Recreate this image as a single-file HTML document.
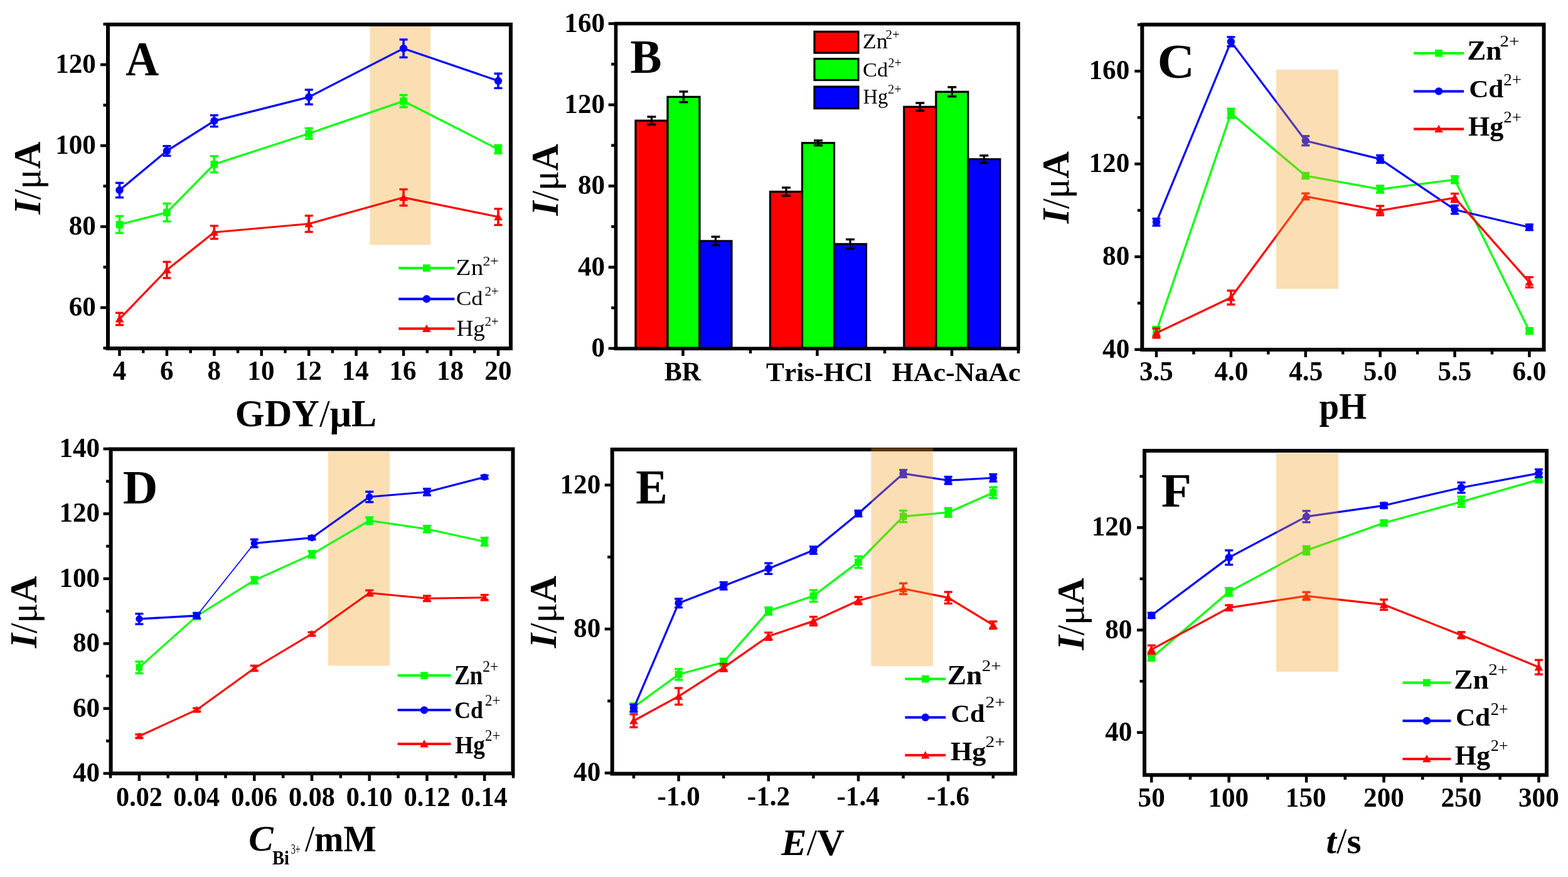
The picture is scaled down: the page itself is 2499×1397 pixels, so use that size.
<!DOCTYPE html>
<html><head><meta charset="utf-8"><title>Figure</title>
<style>
html,body{margin:0;padding:0;background:#fff;}
body{width:2499px;height:1397px;overflow:hidden;}
svg{display:block;}
text{font-family:'Liberation Serif', 'Times New Roman', serif;font-weight:bold;fill:#000;font-kerning:none;}
</style></head><body>
<svg width="2499" height="1397" viewBox="0 0 2499 1397">
<rect width="2499" height="1397" fill="#fff"/>
<rect x="589.5" y="41.8" width="96.5" height="348.2" fill="#fbdeb2"/>
<polyline points="190.5,357.77 265.94,338.43 341.38,261.67 492.25,212.65 643.12,161.05 794,237.81" fill="none" stroke="#00ff00" stroke-width="3.2" stroke-linejoin="round"/>
<line x1="190.5" y1="344.23" x2="190.5" y2="371.32" stroke="#00ff00" stroke-width="3.6" stroke-linecap="butt"/>
<line x1="184" y1="344.23" x2="197" y2="344.23" stroke="#00ff00" stroke-width="3.4" stroke-linecap="butt"/>
<line x1="184" y1="371.32" x2="197" y2="371.32" stroke="#00ff00" stroke-width="3.4" stroke-linecap="butt"/>
<rect x="184.7" y="351.97" width="11.6" height="11.6" fill="#00ff00"/>
<line x1="265.94" y1="324.24" x2="265.94" y2="352.62" stroke="#00ff00" stroke-width="3.6" stroke-linecap="butt"/>
<line x1="259.44" y1="324.24" x2="272.44" y2="324.24" stroke="#00ff00" stroke-width="3.4" stroke-linecap="butt"/>
<line x1="259.44" y1="352.62" x2="272.44" y2="352.62" stroke="#00ff00" stroke-width="3.4" stroke-linecap="butt"/>
<rect x="260.14" y="332.62" width="11.6" height="11.6" fill="#00ff00"/>
<line x1="341.38" y1="248.77" x2="341.38" y2="274.57" stroke="#00ff00" stroke-width="3.6" stroke-linecap="butt"/>
<line x1="334.88" y1="248.77" x2="347.88" y2="248.77" stroke="#00ff00" stroke-width="3.4" stroke-linecap="butt"/>
<line x1="334.88" y1="274.57" x2="347.88" y2="274.57" stroke="#00ff00" stroke-width="3.4" stroke-linecap="butt"/>
<rect x="335.57" y="255.87" width="11.6" height="11.6" fill="#00ff00"/>
<line x1="492.25" y1="204.27" x2="492.25" y2="221.03" stroke="#00ff00" stroke-width="3.6" stroke-linecap="butt"/>
<line x1="485.75" y1="204.27" x2="498.75" y2="204.27" stroke="#00ff00" stroke-width="3.4" stroke-linecap="butt"/>
<line x1="485.75" y1="221.03" x2="498.75" y2="221.03" stroke="#00ff00" stroke-width="3.4" stroke-linecap="butt"/>
<rect x="486.45" y="206.85" width="11.6" height="11.6" fill="#00ff00"/>
<line x1="643.12" y1="151.38" x2="643.12" y2="170.73" stroke="#00ff00" stroke-width="3.6" stroke-linecap="butt"/>
<line x1="636.62" y1="151.38" x2="649.62" y2="151.38" stroke="#00ff00" stroke-width="3.4" stroke-linecap="butt"/>
<line x1="636.62" y1="170.73" x2="649.62" y2="170.73" stroke="#00ff00" stroke-width="3.4" stroke-linecap="butt"/>
<rect x="637.33" y="155.25" width="11.6" height="11.6" fill="#00ff00"/>
<line x1="794" y1="231.36" x2="794" y2="244.25" stroke="#00ff00" stroke-width="3.6" stroke-linecap="butt"/>
<line x1="787.5" y1="231.36" x2="800.5" y2="231.36" stroke="#00ff00" stroke-width="3.4" stroke-linecap="butt"/>
<line x1="787.5" y1="244.25" x2="800.5" y2="244.25" stroke="#00ff00" stroke-width="3.4" stroke-linecap="butt"/>
<rect x="788.2" y="232.01" width="11.6" height="11.6" fill="#00ff00"/>
<polyline points="190.5,302.95 265.94,240.38 341.38,192.66 492.25,154.6 643.12,77.2 794,128.8" fill="none" stroke="#0000ff" stroke-width="3.2" stroke-linejoin="round"/>
<line x1="190.5" y1="291.34" x2="190.5" y2="314.56" stroke="#0000ff" stroke-width="3.6" stroke-linecap="butt"/>
<line x1="184" y1="291.34" x2="197" y2="291.34" stroke="#0000ff" stroke-width="3.4" stroke-linecap="butt"/>
<line x1="184" y1="314.56" x2="197" y2="314.56" stroke="#0000ff" stroke-width="3.4" stroke-linecap="butt"/>
<circle cx="190.5" cy="302.95" r="6.2" fill="#0000ff"/>
<line x1="265.94" y1="232.64" x2="265.94" y2="248.12" stroke="#0000ff" stroke-width="3.6" stroke-linecap="butt"/>
<line x1="259.44" y1="232.64" x2="272.44" y2="232.64" stroke="#0000ff" stroke-width="3.4" stroke-linecap="butt"/>
<line x1="259.44" y1="248.12" x2="272.44" y2="248.12" stroke="#0000ff" stroke-width="3.4" stroke-linecap="butt"/>
<circle cx="265.94" cy="240.38" r="6.2" fill="#0000ff"/>
<line x1="341.38" y1="183.62" x2="341.38" y2="201.69" stroke="#0000ff" stroke-width="3.6" stroke-linecap="butt"/>
<line x1="334.88" y1="183.62" x2="347.88" y2="183.62" stroke="#0000ff" stroke-width="3.4" stroke-linecap="butt"/>
<line x1="334.88" y1="201.69" x2="347.88" y2="201.69" stroke="#0000ff" stroke-width="3.4" stroke-linecap="butt"/>
<circle cx="341.38" cy="192.66" r="6.2" fill="#0000ff"/>
<line x1="492.25" y1="142.99" x2="492.25" y2="166.21" stroke="#0000ff" stroke-width="3.6" stroke-linecap="butt"/>
<line x1="485.75" y1="142.99" x2="498.75" y2="142.99" stroke="#0000ff" stroke-width="3.4" stroke-linecap="butt"/>
<line x1="485.75" y1="166.21" x2="498.75" y2="166.21" stroke="#0000ff" stroke-width="3.4" stroke-linecap="butt"/>
<circle cx="492.25" cy="154.6" r="6.2" fill="#0000ff"/>
<line x1="643.12" y1="63.01" x2="643.12" y2="91.39" stroke="#0000ff" stroke-width="3.6" stroke-linecap="butt"/>
<line x1="636.62" y1="63.01" x2="649.62" y2="63.01" stroke="#0000ff" stroke-width="3.4" stroke-linecap="butt"/>
<line x1="636.62" y1="91.39" x2="649.62" y2="91.39" stroke="#0000ff" stroke-width="3.4" stroke-linecap="butt"/>
<circle cx="643.12" cy="77.2" r="6.2" fill="#0000ff"/>
<line x1="794" y1="117.19" x2="794" y2="140.41" stroke="#0000ff" stroke-width="3.6" stroke-linecap="butt"/>
<line x1="787.5" y1="117.19" x2="800.5" y2="117.19" stroke="#0000ff" stroke-width="3.4" stroke-linecap="butt"/>
<line x1="787.5" y1="140.41" x2="800.5" y2="140.41" stroke="#0000ff" stroke-width="3.4" stroke-linecap="butt"/>
<circle cx="794" cy="128.8" r="6.2" fill="#0000ff"/>
<polyline points="190.5,508.06 265.94,430.01 341.38,370.03 492.25,356.49 643.12,314.56 794,345.52" fill="none" stroke="#ff0000" stroke-width="3.2" stroke-linejoin="round"/>
<line x1="190.5" y1="498.38" x2="190.5" y2="517.74" stroke="#ff0000" stroke-width="3.6" stroke-linecap="butt"/>
<line x1="184" y1="498.38" x2="197" y2="498.38" stroke="#ff0000" stroke-width="3.4" stroke-linecap="butt"/>
<line x1="184" y1="517.74" x2="197" y2="517.74" stroke="#ff0000" stroke-width="3.4" stroke-linecap="butt"/>
<polygon points="190.5,501.26 183.7,513.5 197.3,513.5" fill="#ff0000"/>
<line x1="265.94" y1="417.12" x2="265.94" y2="442.91" stroke="#ff0000" stroke-width="3.6" stroke-linecap="butt"/>
<line x1="259.44" y1="417.12" x2="272.44" y2="417.12" stroke="#ff0000" stroke-width="3.4" stroke-linecap="butt"/>
<line x1="259.44" y1="442.91" x2="272.44" y2="442.91" stroke="#ff0000" stroke-width="3.4" stroke-linecap="butt"/>
<polygon points="265.94,423.21 259.14,435.45 272.74,435.45" fill="#ff0000"/>
<line x1="341.38" y1="359.71" x2="341.38" y2="380.35" stroke="#ff0000" stroke-width="3.6" stroke-linecap="butt"/>
<line x1="334.88" y1="359.71" x2="347.88" y2="359.71" stroke="#ff0000" stroke-width="3.4" stroke-linecap="butt"/>
<line x1="334.88" y1="380.35" x2="347.88" y2="380.35" stroke="#ff0000" stroke-width="3.4" stroke-linecap="butt"/>
<polygon points="341.38,363.23 334.57,375.47 348.18,375.47" fill="#ff0000"/>
<line x1="492.25" y1="343.58" x2="492.25" y2="369.39" stroke="#ff0000" stroke-width="3.6" stroke-linecap="butt"/>
<line x1="485.75" y1="343.58" x2="498.75" y2="343.58" stroke="#ff0000" stroke-width="3.4" stroke-linecap="butt"/>
<line x1="485.75" y1="369.39" x2="498.75" y2="369.39" stroke="#ff0000" stroke-width="3.4" stroke-linecap="butt"/>
<polygon points="492.25,349.69 485.45,361.93 499.05,361.93" fill="#ff0000"/>
<line x1="643.12" y1="301.66" x2="643.12" y2="327.46" stroke="#ff0000" stroke-width="3.6" stroke-linecap="butt"/>
<line x1="636.62" y1="301.66" x2="649.62" y2="301.66" stroke="#ff0000" stroke-width="3.4" stroke-linecap="butt"/>
<line x1="636.62" y1="327.46" x2="649.62" y2="327.46" stroke="#ff0000" stroke-width="3.4" stroke-linecap="butt"/>
<polygon points="643.12,307.76 636.33,320 649.92,320" fill="#ff0000"/>
<line x1="794" y1="332.62" x2="794" y2="358.42" stroke="#ff0000" stroke-width="3.6" stroke-linecap="butt"/>
<line x1="787.5" y1="332.62" x2="800.5" y2="332.62" stroke="#ff0000" stroke-width="3.4" stroke-linecap="butt"/>
<line x1="787.5" y1="358.42" x2="800.5" y2="358.42" stroke="#ff0000" stroke-width="3.4" stroke-linecap="butt"/>
<polygon points="794,338.72 787.2,350.96 800.8,350.96" fill="#ff0000"/>
<rect x="172" y="39" width="642" height="516" fill="none" stroke="#000" stroke-width="6"/>
<line x1="160" y1="490" x2="172" y2="490" stroke="#000" stroke-width="4.5" stroke-linecap="butt"/>
<line x1="160" y1="361" x2="172" y2="361" stroke="#000" stroke-width="4.5" stroke-linecap="butt"/>
<line x1="160" y1="232" x2="172" y2="232" stroke="#000" stroke-width="4.5" stroke-linecap="butt"/>
<line x1="160" y1="103" x2="172" y2="103" stroke="#000" stroke-width="4.5" stroke-linecap="butt"/>
<line x1="164.5" y1="554.5" x2="172" y2="554.5" stroke="#000" stroke-width="4.5" stroke-linecap="butt"/>
<line x1="164.5" y1="425.5" x2="172" y2="425.5" stroke="#000" stroke-width="4.5" stroke-linecap="butt"/>
<line x1="164.5" y1="296.5" x2="172" y2="296.5" stroke="#000" stroke-width="4.5" stroke-linecap="butt"/>
<line x1="164.5" y1="167.5" x2="172" y2="167.5" stroke="#000" stroke-width="4.5" stroke-linecap="butt"/>
<line x1="164.5" y1="38.5" x2="172" y2="38.5" stroke="#000" stroke-width="4.5" stroke-linecap="butt"/>
<text transform="translate(109.72 502.92) scale(0.9800 1)" font-size="44">60</text>
<text transform="translate(109.72 373.92) scale(0.9800 1)" font-size="44">80</text>
<text transform="translate(88.16 244.92) scale(0.9800 1)" font-size="44">100</text>
<text transform="translate(88.16 115.92) scale(0.9800 1)" font-size="44">120</text>
<line x1="190.5" y1="555" x2="190.5" y2="567" stroke="#000" stroke-width="4.5" stroke-linecap="butt"/>
<line x1="265.94" y1="555" x2="265.94" y2="567" stroke="#000" stroke-width="4.5" stroke-linecap="butt"/>
<line x1="341.38" y1="555" x2="341.38" y2="567" stroke="#000" stroke-width="4.5" stroke-linecap="butt"/>
<line x1="416.81" y1="555" x2="416.81" y2="567" stroke="#000" stroke-width="4.5" stroke-linecap="butt"/>
<line x1="492.25" y1="555" x2="492.25" y2="567" stroke="#000" stroke-width="4.5" stroke-linecap="butt"/>
<line x1="567.69" y1="555" x2="567.69" y2="567" stroke="#000" stroke-width="4.5" stroke-linecap="butt"/>
<line x1="643.12" y1="555" x2="643.12" y2="567" stroke="#000" stroke-width="4.5" stroke-linecap="butt"/>
<line x1="718.56" y1="555" x2="718.56" y2="567" stroke="#000" stroke-width="4.5" stroke-linecap="butt"/>
<line x1="794" y1="555" x2="794" y2="567" stroke="#000" stroke-width="4.5" stroke-linecap="butt"/>
<line x1="228.22" y1="555" x2="228.22" y2="562.5" stroke="#000" stroke-width="4.5" stroke-linecap="butt"/>
<line x1="303.66" y1="555" x2="303.66" y2="562.5" stroke="#000" stroke-width="4.5" stroke-linecap="butt"/>
<line x1="379.09" y1="555" x2="379.09" y2="562.5" stroke="#000" stroke-width="4.5" stroke-linecap="butt"/>
<line x1="454.53" y1="555" x2="454.53" y2="562.5" stroke="#000" stroke-width="4.5" stroke-linecap="butt"/>
<line x1="529.97" y1="555" x2="529.97" y2="562.5" stroke="#000" stroke-width="4.5" stroke-linecap="butt"/>
<line x1="605.41" y1="555" x2="605.41" y2="562.5" stroke="#000" stroke-width="4.5" stroke-linecap="butt"/>
<line x1="680.84" y1="555" x2="680.84" y2="562.5" stroke="#000" stroke-width="4.5" stroke-linecap="butt"/>
<line x1="756.28" y1="555" x2="756.28" y2="562.5" stroke="#000" stroke-width="4.5" stroke-linecap="butt"/>
<text transform="translate(179.83 605) scale(0.9800 1)" font-size="44">4</text>
<text transform="translate(255.05 605) scale(0.9800 1)" font-size="44">6</text>
<text transform="translate(330.6 605) scale(0.9800 1)" font-size="44">8</text>
<text transform="translate(394.35 605) scale(0.9800 1)" font-size="44">10</text>
<text transform="translate(469.89 605) scale(0.9800 1)" font-size="44">12</text>
<text transform="translate(544.8 605) scale(0.9800 1)" font-size="44">14</text>
<text transform="translate(620.47 605) scale(0.9800 1)" font-size="44">16</text>
<text transform="translate(695.99 605) scale(0.9800 1)" font-size="44">18</text>
<text transform="translate(772.36 605) scale(0.9800 1)" font-size="44">20</text>
<text transform="translate(200.18 119.6) scale(0.9381 1)" font-size="78.16">A</text>
<text transform="translate(374.85 679) scale(0.9722 1)" font-size="62.08">GDY<tspan style="font-weight:normal">/</tspan>μL</text>
<text transform="translate(63.7 341.61) rotate(-90) scale(0.9773 1)" font-size="61.68"><tspan style="font-style:italic">I</tspan><tspan style="font-weight:normal">/μ</tspan>A</text>
<line x1="635.3" y1="427" x2="724.5" y2="427" stroke="#00ff00" stroke-width="4" stroke-linecap="butt"/>
<rect x="674.1" y="421.2" width="11.6" height="11.6" fill="#00ff00"/>
<line x1="635.3" y1="476.2" x2="724.5" y2="476.2" stroke="#0000ff" stroke-width="4" stroke-linecap="butt"/>
<circle cx="679.9" cy="476.2" r="6.2" fill="#0000ff"/>
<line x1="635.3" y1="523.5" x2="724.5" y2="523.5" stroke="#ff0000" stroke-width="4" stroke-linecap="butt"/>
<polygon points="679.9,516.7 673.1,528.94 686.7,528.94" fill="#ff0000"/>
<text transform="translate(726.62 438.2) scale(1.1292 1)" font-size="34.82"><tspan style="font-weight:normal">Zn</tspan></text>
<text transform="translate(769.45 423) scale(1.1665 1)" font-size="20.39"><tspan style="font-weight:normal">2+</tspan></text>
<text transform="translate(727 485.99) scale(1.1377 1)" font-size="32.12"><tspan style="font-weight:normal">Cd</tspan></text>
<text transform="translate(772.8 471.2) scale(0.9903 1)" font-size="20.69"><tspan style="font-weight:normal">2+</tspan></text>
<text transform="translate(727.43 535) scale(1.0618 1)" font-size="35.13"><tspan style="font-weight:normal">Hg</tspan></text>
<text transform="translate(772.8 519) scale(0.9831 1)" font-size="20.84"><tspan style="font-weight:normal">2+</tspan></text>
<rect x="1013" y="192.17" width="51" height="362.83" fill="#ff0000" stroke="#000" stroke-width="3.2"/>
<rect x="1064" y="154.34" width="51" height="400.66" fill="#00ff00" stroke="#000" stroke-width="3.2"/>
<rect x="1115" y="383.93" width="51" height="171.07" fill="#0000ff" stroke="#000" stroke-width="3.2"/>
<rect x="1227.5" y="305.35" width="51" height="249.65" fill="#ff0000" stroke="#000" stroke-width="3.2"/>
<rect x="1278.5" y="227.74" width="51" height="327.26" fill="#00ff00" stroke="#000" stroke-width="3.2"/>
<rect x="1329.5" y="388.79" width="51" height="166.21" fill="#0000ff" stroke="#000" stroke-width="3.2"/>
<rect x="1440.8" y="170.18" width="51" height="384.82" fill="#ff0000" stroke="#000" stroke-width="3.2"/>
<rect x="1491.8" y="146.25" width="51" height="408.75" fill="#00ff00" stroke="#000" stroke-width="3.2"/>
<rect x="1542.8" y="253.61" width="51" height="301.39" fill="#0000ff" stroke="#000" stroke-width="3.2"/>
<line x1="1038.5" y1="186" x2="1038.5" y2="198.35" stroke="#000" stroke-width="3.2" stroke-linecap="butt"/>
<line x1="1031.5" y1="186" x2="1045.5" y2="186" stroke="#000" stroke-width="3.4" stroke-linecap="butt"/>
<line x1="1031.5" y1="198.35" x2="1045.5" y2="198.35" stroke="#000" stroke-width="3.4" stroke-linecap="butt"/>
<line x1="1089.5" y1="145.9" x2="1089.5" y2="162.78" stroke="#000" stroke-width="3.2" stroke-linecap="butt"/>
<line x1="1082.5" y1="145.9" x2="1096.5" y2="145.9" stroke="#000" stroke-width="3.4" stroke-linecap="butt"/>
<line x1="1082.5" y1="162.78" x2="1096.5" y2="162.78" stroke="#000" stroke-width="3.4" stroke-linecap="butt"/>
<line x1="1140.5" y1="377.11" x2="1140.5" y2="390.76" stroke="#000" stroke-width="3.2" stroke-linecap="butt"/>
<line x1="1133.5" y1="377.11" x2="1147.5" y2="377.11" stroke="#000" stroke-width="3.4" stroke-linecap="butt"/>
<line x1="1133.5" y1="390.76" x2="1147.5" y2="390.76" stroke="#000" stroke-width="3.4" stroke-linecap="butt"/>
<line x1="1253" y1="298.86" x2="1253" y2="311.85" stroke="#000" stroke-width="3.2" stroke-linecap="butt"/>
<line x1="1246" y1="298.86" x2="1260" y2="298.86" stroke="#000" stroke-width="3.4" stroke-linecap="butt"/>
<line x1="1246" y1="311.85" x2="1260" y2="311.85" stroke="#000" stroke-width="3.4" stroke-linecap="butt"/>
<line x1="1304" y1="223.83" x2="1304" y2="231.66" stroke="#000" stroke-width="3.2" stroke-linecap="butt"/>
<line x1="1297" y1="223.83" x2="1311" y2="223.83" stroke="#000" stroke-width="3.4" stroke-linecap="butt"/>
<line x1="1297" y1="231.66" x2="1311" y2="231.66" stroke="#000" stroke-width="3.4" stroke-linecap="butt"/>
<line x1="1355" y1="381.32" x2="1355" y2="396.25" stroke="#000" stroke-width="3.2" stroke-linecap="butt"/>
<line x1="1348" y1="381.32" x2="1362" y2="381.32" stroke="#000" stroke-width="3.4" stroke-linecap="butt"/>
<line x1="1348" y1="396.25" x2="1362" y2="396.25" stroke="#000" stroke-width="3.4" stroke-linecap="butt"/>
<line x1="1466.3" y1="164.01" x2="1466.3" y2="176.36" stroke="#000" stroke-width="3.2" stroke-linecap="butt"/>
<line x1="1459.3" y1="164.01" x2="1473.3" y2="164.01" stroke="#000" stroke-width="3.4" stroke-linecap="butt"/>
<line x1="1459.3" y1="176.36" x2="1473.3" y2="176.36" stroke="#000" stroke-width="3.4" stroke-linecap="butt"/>
<line x1="1517.3" y1="138.79" x2="1517.3" y2="153.72" stroke="#000" stroke-width="3.2" stroke-linecap="butt"/>
<line x1="1510.3" y1="138.79" x2="1524.3" y2="138.79" stroke="#000" stroke-width="3.4" stroke-linecap="butt"/>
<line x1="1510.3" y1="153.72" x2="1524.3" y2="153.72" stroke="#000" stroke-width="3.4" stroke-linecap="butt"/>
<line x1="1568.3" y1="247.76" x2="1568.3" y2="259.47" stroke="#000" stroke-width="3.2" stroke-linecap="butt"/>
<line x1="1561.3" y1="247.76" x2="1575.3" y2="247.76" stroke="#000" stroke-width="3.4" stroke-linecap="butt"/>
<line x1="1561.3" y1="259.47" x2="1575.3" y2="259.47" stroke="#000" stroke-width="3.4" stroke-linecap="butt"/>
<rect x="981.5" y="37.6" width="641.5" height="517.7" fill="none" stroke="#000" stroke-width="5.6"/>
<line x1="969.7" y1="555" x2="981.5" y2="555" stroke="#000" stroke-width="4.5" stroke-linecap="butt"/>
<line x1="969.7" y1="425.65" x2="981.5" y2="425.65" stroke="#000" stroke-width="4.5" stroke-linecap="butt"/>
<line x1="969.7" y1="296.3" x2="981.5" y2="296.3" stroke="#000" stroke-width="4.5" stroke-linecap="butt"/>
<line x1="969.7" y1="166.95" x2="981.5" y2="166.95" stroke="#000" stroke-width="4.5" stroke-linecap="butt"/>
<line x1="969.7" y1="37.6" x2="981.5" y2="37.6" stroke="#000" stroke-width="4.5" stroke-linecap="butt"/>
<line x1="974.2" y1="490.32" x2="981.5" y2="490.32" stroke="#000" stroke-width="4.5" stroke-linecap="butt"/>
<line x1="974.2" y1="360.98" x2="981.5" y2="360.98" stroke="#000" stroke-width="4.5" stroke-linecap="butt"/>
<line x1="974.2" y1="231.62" x2="981.5" y2="231.62" stroke="#000" stroke-width="4.5" stroke-linecap="butt"/>
<line x1="974.2" y1="102.27" x2="981.5" y2="102.27" stroke="#000" stroke-width="4.5" stroke-linecap="butt"/>
<text transform="translate(942.48 567.92) scale(0.9800 1)" font-size="44">0</text>
<text transform="translate(920.92 438.57) scale(0.9800 1)" font-size="44">40</text>
<text transform="translate(920.92 309.22) scale(0.9800 1)" font-size="44">80</text>
<text transform="translate(899.36 179.87) scale(0.9800 1)" font-size="44">120</text>
<text transform="translate(899.36 50.52) scale(0.9800 1)" font-size="44">160</text>
<line x1="1088.5" y1="555" x2="1088.5" y2="567" stroke="#000" stroke-width="4.5" stroke-linecap="butt"/>
<line x1="1302.5" y1="555" x2="1302.5" y2="567" stroke="#000" stroke-width="4.5" stroke-linecap="butt"/>
<line x1="1517" y1="555" x2="1517" y2="567" stroke="#000" stroke-width="4.5" stroke-linecap="butt"/>
<line x1="1196" y1="555" x2="1196" y2="563" stroke="#000" stroke-width="4.5" stroke-linecap="butt"/>
<line x1="1410" y1="555" x2="1410" y2="563" stroke="#000" stroke-width="4.5" stroke-linecap="butt"/>
<line x1="1623" y1="555" x2="1623" y2="563" stroke="#000" stroke-width="4.5" stroke-linecap="butt"/>
<text transform="translate(1058.7 605.7) scale(1.0143 1)" font-size="41.54">BR</text>
<text transform="translate(1221.02 606.5) scale(1.0284 1)" font-size="42.14">Tris-HCl</text>
<text transform="translate(1421.45 606.5) scale(1.0441 1)" font-size="42.14">HAc-NaAc</text>
<text transform="translate(1004.55 115.87) scale(0.9752 1)" font-size="77.09">B</text>
<text transform="translate(888.9 343.52) rotate(-90) scale(0.9768 1)" font-size="60.92"><tspan style="font-style:italic">I</tspan><tspan style="font-weight:normal">/μ</tspan>A</text>
<rect x="1298" y="50.4" width="70" height="33.8" fill="#ff0000" stroke="#000" stroke-width="3.2"/>
<rect x="1298" y="93.7" width="70" height="33.8" fill="#00ff00" stroke="#000" stroke-width="3.2"/>
<rect x="1298" y="138.1" width="70" height="34.6" fill="#0000ff" stroke="#000" stroke-width="3.2"/>
<text transform="translate(1374.67 77.2) scale(1.0592 1)" font-size="34.06"><tspan style="font-weight:normal">Zn</tspan></text>
<text transform="translate(1411.48 62.2) scale(1.0457 1)" font-size="20.09"><tspan style="font-weight:normal">2+</tspan></text>
<text transform="translate(1374.99 121.5) scale(1.1099 1)" font-size="30.98"><tspan style="font-weight:normal">Cd</tspan></text>
<text transform="translate(1415.52 106.8) scale(0.9944 1)" font-size="20.09"><tspan style="font-weight:normal">2+</tspan></text>
<text transform="translate(1375.46 164.8) scale(0.9425 1)" font-size="34.52"><tspan style="font-weight:normal">Hg</tspan></text>
<text transform="translate(1415.1 149.4) scale(0.9782 1)" font-size="20.84"><tspan style="font-weight:normal">2+</tspan></text>
<polyline points="1843,527.97 1961.88,180.56 2080.76,279.98 2199.64,301.42 2318.52,286.26 2437.4,527.23" fill="none" stroke="#00ff00" stroke-width="3.2" stroke-linejoin="round"/>
<line x1="1843" y1="520.58" x2="1843" y2="535.36" stroke="#00ff00" stroke-width="3.6" stroke-linecap="butt"/>
<line x1="1836.5" y1="520.58" x2="1849.5" y2="520.58" stroke="#00ff00" stroke-width="3.4" stroke-linecap="butt"/>
<line x1="1836.5" y1="535.36" x2="1849.5" y2="535.36" stroke="#00ff00" stroke-width="3.4" stroke-linecap="butt"/>
<rect x="1837.2" y="522.17" width="11.6" height="11.6" fill="#00ff00"/>
<line x1="1961.88" y1="173.17" x2="1961.88" y2="187.96" stroke="#00ff00" stroke-width="3.6" stroke-linecap="butt"/>
<line x1="1955.38" y1="173.17" x2="1968.38" y2="173.17" stroke="#00ff00" stroke-width="3.4" stroke-linecap="butt"/>
<line x1="1955.38" y1="187.96" x2="1968.38" y2="187.96" stroke="#00ff00" stroke-width="3.4" stroke-linecap="butt"/>
<rect x="1956.08" y="174.76" width="11.6" height="11.6" fill="#00ff00"/>
<line x1="2080.76" y1="275.55" x2="2080.76" y2="284.42" stroke="#00ff00" stroke-width="3.6" stroke-linecap="butt"/>
<line x1="2074.26" y1="275.55" x2="2087.26" y2="275.55" stroke="#00ff00" stroke-width="3.4" stroke-linecap="butt"/>
<line x1="2074.26" y1="284.42" x2="2087.26" y2="284.42" stroke="#00ff00" stroke-width="3.4" stroke-linecap="butt"/>
<rect x="2074.96" y="274.18" width="11.6" height="11.6" fill="#00ff00"/>
<line x1="2199.64" y1="295.87" x2="2199.64" y2="306.96" stroke="#00ff00" stroke-width="3.6" stroke-linecap="butt"/>
<line x1="2193.14" y1="295.87" x2="2206.14" y2="295.87" stroke="#00ff00" stroke-width="3.4" stroke-linecap="butt"/>
<line x1="2193.14" y1="306.96" x2="2206.14" y2="306.96" stroke="#00ff00" stroke-width="3.4" stroke-linecap="butt"/>
<rect x="2193.84" y="295.62" width="11.6" height="11.6" fill="#00ff00"/>
<line x1="2318.52" y1="280.72" x2="2318.52" y2="291.81" stroke="#00ff00" stroke-width="3.6" stroke-linecap="butt"/>
<line x1="2312.02" y1="280.72" x2="2325.02" y2="280.72" stroke="#00ff00" stroke-width="3.4" stroke-linecap="butt"/>
<line x1="2312.02" y1="291.81" x2="2325.02" y2="291.81" stroke="#00ff00" stroke-width="3.4" stroke-linecap="butt"/>
<rect x="2312.72" y="280.46" width="11.6" height="11.6" fill="#00ff00"/>
<line x1="2437.4" y1="522.8" x2="2437.4" y2="531.67" stroke="#00ff00" stroke-width="3.6" stroke-linecap="butt"/>
<line x1="2430.9" y1="522.8" x2="2443.9" y2="522.8" stroke="#00ff00" stroke-width="3.4" stroke-linecap="butt"/>
<line x1="2430.9" y1="531.67" x2="2443.9" y2="531.67" stroke="#00ff00" stroke-width="3.4" stroke-linecap="butt"/>
<rect x="2431.6" y="521.43" width="11.6" height="11.6" fill="#00ff00"/>
<polyline points="1843,353.9 1961.88,66.36 2080.76,224.18 2199.64,253.37 2318.52,333.94 2437.4,362.03" fill="none" stroke="#0000ff" stroke-width="3.2" stroke-linejoin="round"/>
<line x1="1843" y1="348.35" x2="1843" y2="359.44" stroke="#0000ff" stroke-width="3.6" stroke-linecap="butt"/>
<line x1="1836.5" y1="348.35" x2="1849.5" y2="348.35" stroke="#0000ff" stroke-width="3.4" stroke-linecap="butt"/>
<line x1="1836.5" y1="359.44" x2="1849.5" y2="359.44" stroke="#0000ff" stroke-width="3.4" stroke-linecap="butt"/>
<circle cx="1843" cy="353.9" r="6.2" fill="#0000ff"/>
<line x1="1961.88" y1="58.97" x2="1961.88" y2="73.75" stroke="#0000ff" stroke-width="3.6" stroke-linecap="butt"/>
<line x1="1955.38" y1="58.97" x2="1968.38" y2="58.97" stroke="#0000ff" stroke-width="3.4" stroke-linecap="butt"/>
<line x1="1955.38" y1="73.75" x2="1968.38" y2="73.75" stroke="#0000ff" stroke-width="3.4" stroke-linecap="butt"/>
<circle cx="1961.88" cy="66.36" r="6.2" fill="#0000ff"/>
<line x1="2080.76" y1="216.78" x2="2080.76" y2="231.57" stroke="#0000ff" stroke-width="3.6" stroke-linecap="butt"/>
<line x1="2074.26" y1="216.78" x2="2087.26" y2="216.78" stroke="#0000ff" stroke-width="3.4" stroke-linecap="butt"/>
<line x1="2074.26" y1="231.57" x2="2087.26" y2="231.57" stroke="#0000ff" stroke-width="3.4" stroke-linecap="butt"/>
<circle cx="2080.76" cy="224.18" r="6.2" fill="#0000ff"/>
<line x1="2199.64" y1="247.46" x2="2199.64" y2="259.29" stroke="#0000ff" stroke-width="3.6" stroke-linecap="butt"/>
<line x1="2193.14" y1="247.46" x2="2206.14" y2="247.46" stroke="#0000ff" stroke-width="3.4" stroke-linecap="butt"/>
<line x1="2193.14" y1="259.29" x2="2206.14" y2="259.29" stroke="#0000ff" stroke-width="3.4" stroke-linecap="butt"/>
<circle cx="2199.64" cy="253.37" r="6.2" fill="#0000ff"/>
<line x1="2318.52" y1="327.29" x2="2318.52" y2="340.59" stroke="#0000ff" stroke-width="3.6" stroke-linecap="butt"/>
<line x1="2312.02" y1="327.29" x2="2325.02" y2="327.29" stroke="#0000ff" stroke-width="3.4" stroke-linecap="butt"/>
<line x1="2312.02" y1="340.59" x2="2325.02" y2="340.59" stroke="#0000ff" stroke-width="3.4" stroke-linecap="butt"/>
<circle cx="2318.52" cy="333.94" r="6.2" fill="#0000ff"/>
<line x1="2437.4" y1="357.59" x2="2437.4" y2="366.46" stroke="#0000ff" stroke-width="3.6" stroke-linecap="butt"/>
<line x1="2430.9" y1="357.59" x2="2443.9" y2="357.59" stroke="#0000ff" stroke-width="3.4" stroke-linecap="butt"/>
<line x1="2430.9" y1="366.46" x2="2443.9" y2="366.46" stroke="#0000ff" stroke-width="3.4" stroke-linecap="butt"/>
<circle cx="2437.4" cy="362.03" r="6.2" fill="#0000ff"/>
<polyline points="1843,530.56 1961.88,474.01 2080.76,312.88 2199.64,335.42 2318.52,315.09 2437.4,449.62" fill="none" stroke="#ff0000" stroke-width="3.2" stroke-linejoin="round"/>
<line x1="1843" y1="523.17" x2="1843" y2="537.95" stroke="#ff0000" stroke-width="3.6" stroke-linecap="butt"/>
<line x1="1836.5" y1="523.17" x2="1849.5" y2="523.17" stroke="#ff0000" stroke-width="3.4" stroke-linecap="butt"/>
<line x1="1836.5" y1="537.95" x2="1849.5" y2="537.95" stroke="#ff0000" stroke-width="3.4" stroke-linecap="butt"/>
<polygon points="1843,523.76 1836.2,536 1849.8,536" fill="#ff0000"/>
<line x1="1961.88" y1="462.93" x2="1961.88" y2="485.1" stroke="#ff0000" stroke-width="3.6" stroke-linecap="butt"/>
<line x1="1955.38" y1="462.93" x2="1968.38" y2="462.93" stroke="#ff0000" stroke-width="3.4" stroke-linecap="butt"/>
<line x1="1955.38" y1="485.1" x2="1968.38" y2="485.1" stroke="#ff0000" stroke-width="3.4" stroke-linecap="butt"/>
<polygon points="1961.88,467.21 1955.08,479.45 1968.68,479.45" fill="#ff0000"/>
<line x1="2080.76" y1="308.07" x2="2080.76" y2="317.68" stroke="#ff0000" stroke-width="3.6" stroke-linecap="butt"/>
<line x1="2074.26" y1="308.07" x2="2087.26" y2="308.07" stroke="#ff0000" stroke-width="3.4" stroke-linecap="butt"/>
<line x1="2074.26" y1="317.68" x2="2087.26" y2="317.68" stroke="#ff0000" stroke-width="3.4" stroke-linecap="butt"/>
<polygon points="2080.76,306.07 2073.96,318.31 2087.56,318.31" fill="#ff0000"/>
<line x1="2199.64" y1="328.03" x2="2199.64" y2="342.81" stroke="#ff0000" stroke-width="3.6" stroke-linecap="butt"/>
<line x1="2193.14" y1="328.03" x2="2206.14" y2="328.03" stroke="#ff0000" stroke-width="3.4" stroke-linecap="butt"/>
<line x1="2193.14" y1="342.81" x2="2206.14" y2="342.81" stroke="#ff0000" stroke-width="3.4" stroke-linecap="butt"/>
<polygon points="2199.64,328.62 2192.84,340.86 2206.44,340.86" fill="#ff0000"/>
<line x1="2318.52" y1="308.44" x2="2318.52" y2="321.75" stroke="#ff0000" stroke-width="3.6" stroke-linecap="butt"/>
<line x1="2312.02" y1="308.44" x2="2325.02" y2="308.44" stroke="#ff0000" stroke-width="3.4" stroke-linecap="butt"/>
<line x1="2312.02" y1="321.75" x2="2325.02" y2="321.75" stroke="#ff0000" stroke-width="3.4" stroke-linecap="butt"/>
<polygon points="2318.52,308.29 2311.72,320.53 2325.32,320.53" fill="#ff0000"/>
<line x1="2437.4" y1="441.49" x2="2437.4" y2="457.75" stroke="#ff0000" stroke-width="3.6" stroke-linecap="butt"/>
<line x1="2430.9" y1="441.49" x2="2443.9" y2="441.49" stroke="#ff0000" stroke-width="3.4" stroke-linecap="butt"/>
<line x1="2430.9" y1="457.75" x2="2443.9" y2="457.75" stroke="#ff0000" stroke-width="3.4" stroke-linecap="butt"/>
<polygon points="2437.4,442.82 2430.6,455.06 2444.2,455.06" fill="#ff0000"/>
<rect x="2034" y="111" width="99" height="349" fill="rgba(243,160,36,0.35)"/>
<rect x="1820.3" y="39.2" width="640.2" height="517.8" fill="none" stroke="#000" stroke-width="6"/>
<line x1="1808.3" y1="556.8" x2="1820.3" y2="556.8" stroke="#000" stroke-width="4.5" stroke-linecap="butt"/>
<line x1="1808.3" y1="408.97" x2="1820.3" y2="408.97" stroke="#000" stroke-width="4.5" stroke-linecap="butt"/>
<line x1="1808.3" y1="261.13" x2="1820.3" y2="261.13" stroke="#000" stroke-width="4.5" stroke-linecap="butt"/>
<line x1="1808.3" y1="113.3" x2="1820.3" y2="113.3" stroke="#000" stroke-width="4.5" stroke-linecap="butt"/>
<line x1="1812.8" y1="482.88" x2="1820.3" y2="482.88" stroke="#000" stroke-width="4.5" stroke-linecap="butt"/>
<line x1="1812.8" y1="335.05" x2="1820.3" y2="335.05" stroke="#000" stroke-width="4.5" stroke-linecap="butt"/>
<line x1="1812.8" y1="187.22" x2="1820.3" y2="187.22" stroke="#000" stroke-width="4.5" stroke-linecap="butt"/>
<line x1="1812.8" y1="39.38" x2="1820.3" y2="39.38" stroke="#000" stroke-width="4.5" stroke-linecap="butt"/>
<text transform="translate(1757.12 569.72) scale(0.9800 1)" font-size="44">40</text>
<text transform="translate(1757.12 421.88) scale(0.9800 1)" font-size="44">80</text>
<text transform="translate(1735.56 274.05) scale(0.9800 1)" font-size="44">120</text>
<text transform="translate(1735.56 126.22) scale(0.9800 1)" font-size="44">160</text>
<line x1="1843" y1="557" x2="1843" y2="569" stroke="#000" stroke-width="4.5" stroke-linecap="butt"/>
<line x1="1961.88" y1="557" x2="1961.88" y2="569" stroke="#000" stroke-width="4.5" stroke-linecap="butt"/>
<line x1="2080.76" y1="557" x2="2080.76" y2="569" stroke="#000" stroke-width="4.5" stroke-linecap="butt"/>
<line x1="2199.64" y1="557" x2="2199.64" y2="569" stroke="#000" stroke-width="4.5" stroke-linecap="butt"/>
<line x1="2318.52" y1="557" x2="2318.52" y2="569" stroke="#000" stroke-width="4.5" stroke-linecap="butt"/>
<line x1="2437.4" y1="557" x2="2437.4" y2="569" stroke="#000" stroke-width="4.5" stroke-linecap="butt"/>
<line x1="1902.44" y1="557" x2="1902.44" y2="564.5" stroke="#000" stroke-width="4.5" stroke-linecap="butt"/>
<line x1="2021.32" y1="557" x2="2021.32" y2="564.5" stroke="#000" stroke-width="4.5" stroke-linecap="butt"/>
<line x1="2140.2" y1="557" x2="2140.2" y2="564.5" stroke="#000" stroke-width="4.5" stroke-linecap="butt"/>
<line x1="2259.08" y1="557" x2="2259.08" y2="564.5" stroke="#000" stroke-width="4.5" stroke-linecap="butt"/>
<line x1="2377.96" y1="557" x2="2377.96" y2="564.5" stroke="#000" stroke-width="4.5" stroke-linecap="butt"/>
<text transform="translate(1816.03 605.8) scale(0.9800 1)" font-size="44">3.5</text>
<text transform="translate(1935.46 605.8) scale(0.9800 1)" font-size="44">4.0</text>
<text transform="translate(2054.3 605.8) scale(0.9800 1)" font-size="44">4.5</text>
<text transform="translate(2172.65 605.8) scale(0.9800 1)" font-size="44">5.0</text>
<text transform="translate(2291.5 605.8) scale(0.9800 1)" font-size="44">5.5</text>
<text transform="translate(2410.53 605.8) scale(0.9800 1)" font-size="44">6.0</text>
<text transform="translate(1844.38 124.13) scale(1.0425 1)" font-size="79.03">C</text>
<text transform="translate(2102.48 666.6) scale(0.9613 1)" font-size="59.08">pH</text>
<text transform="translate(1702.7 356.02) rotate(-90) scale(0.9696 1)" font-size="61.53"><tspan style="font-style:italic">I</tspan><tspan style="font-weight:normal">/μ</tspan>A</text>
<line x1="2253" y1="84.7" x2="2333" y2="84.7" stroke="#00ff00" stroke-width="4" stroke-linecap="butt"/>
<rect x="2287.2" y="78.9" width="11.6" height="11.6" fill="#00ff00"/>
<line x1="2253" y1="145.4" x2="2333" y2="145.4" stroke="#0000ff" stroke-width="4" stroke-linecap="butt"/>
<circle cx="2293" cy="145.4" r="6.2" fill="#0000ff"/>
<line x1="2253" y1="205.5" x2="2333" y2="205.5" stroke="#ff0000" stroke-width="4" stroke-linecap="butt"/>
<polygon points="2293,198.7 2286.2,210.94 2299.8,210.94" fill="#ff0000"/>
<text transform="translate(2338.24 95.3) scale(1.0249 1)" font-size="43.98">Zn</text>
<text transform="translate(2390.3 74.1) scale(1.1828 1)" font-size="25.07"><tspan style="font-weight:normal">2+</tspan></text>
<text transform="translate(2341.19 154.81) scale(1.0773 1)" font-size="40.08">Cd</text>
<text transform="translate(2396.21 135.9) scale(0.9979 1)" font-size="27.03"><tspan style="font-weight:normal">2+</tspan></text>
<text transform="translate(2339.95 215.5) scale(1.0102 1)" font-size="43.68">Hg</text>
<text transform="translate(2396.21 194.5) scale(1.0760 1)" font-size="25.07"><tspan style="font-weight:normal">2+</tspan></text>
<rect x="523" y="719.5" width="98" height="341" fill="#fbdeb2"/>
<polyline points="221.9,1063.2 313.62,981.25 405.33,924.38 497.05,883.02 588.77,829.26 680.48,842.7 772.2,862.86" fill="none" stroke="#00ff00" stroke-width="3" stroke-linejoin="round"/>
<line x1="221.9" y1="1053.89" x2="221.9" y2="1072.51" stroke="#00ff00" stroke-width="3.6" stroke-linecap="butt"/>
<line x1="215.4" y1="1053.89" x2="228.4" y2="1053.89" stroke="#00ff00" stroke-width="3.4" stroke-linecap="butt"/>
<line x1="215.4" y1="1072.51" x2="228.4" y2="1072.51" stroke="#00ff00" stroke-width="3.4" stroke-linecap="butt"/>
<rect x="216.68" y="1057.98" width="10.44" height="10.44" fill="#00ff00"/>
<line x1="313.62" y1="976.09" x2="313.62" y2="986.42" stroke="#00ff00" stroke-width="3.6" stroke-linecap="butt"/>
<line x1="307.12" y1="976.09" x2="320.12" y2="976.09" stroke="#00ff00" stroke-width="3.4" stroke-linecap="butt"/>
<line x1="307.12" y1="986.42" x2="320.12" y2="986.42" stroke="#00ff00" stroke-width="3.4" stroke-linecap="butt"/>
<rect x="308.4" y="976.03" width="10.44" height="10.44" fill="#00ff00"/>
<line x1="405.33" y1="919.21" x2="405.33" y2="929.56" stroke="#00ff00" stroke-width="3.6" stroke-linecap="butt"/>
<line x1="398.83" y1="919.21" x2="411.83" y2="919.21" stroke="#00ff00" stroke-width="3.4" stroke-linecap="butt"/>
<line x1="398.83" y1="929.56" x2="411.83" y2="929.56" stroke="#00ff00" stroke-width="3.4" stroke-linecap="butt"/>
<rect x="400.11" y="919.16" width="10.44" height="10.44" fill="#00ff00"/>
<line x1="497.05" y1="877.86" x2="497.05" y2="888.19" stroke="#00ff00" stroke-width="3.6" stroke-linecap="butt"/>
<line x1="490.55" y1="877.86" x2="503.55" y2="877.86" stroke="#00ff00" stroke-width="3.4" stroke-linecap="butt"/>
<line x1="490.55" y1="888.19" x2="503.55" y2="888.19" stroke="#00ff00" stroke-width="3.4" stroke-linecap="butt"/>
<rect x="491.83" y="877.8" width="10.44" height="10.44" fill="#00ff00"/>
<line x1="588.77" y1="824.09" x2="588.77" y2="834.43" stroke="#00ff00" stroke-width="3.6" stroke-linecap="butt"/>
<line x1="582.27" y1="824.09" x2="595.27" y2="824.09" stroke="#00ff00" stroke-width="3.4" stroke-linecap="butt"/>
<line x1="582.27" y1="834.43" x2="595.27" y2="834.43" stroke="#00ff00" stroke-width="3.4" stroke-linecap="butt"/>
<rect x="583.55" y="824.04" width="10.44" height="10.44" fill="#00ff00"/>
<line x1="680.48" y1="837.53" x2="680.48" y2="847.87" stroke="#00ff00" stroke-width="3.6" stroke-linecap="butt"/>
<line x1="673.98" y1="837.53" x2="686.98" y2="837.53" stroke="#00ff00" stroke-width="3.4" stroke-linecap="butt"/>
<line x1="673.98" y1="847.87" x2="686.98" y2="847.87" stroke="#00ff00" stroke-width="3.4" stroke-linecap="butt"/>
<rect x="675.26" y="837.48" width="10.44" height="10.44" fill="#00ff00"/>
<line x1="772.2" y1="856.66" x2="772.2" y2="869.07" stroke="#00ff00" stroke-width="3.6" stroke-linecap="butt"/>
<line x1="765.7" y1="856.66" x2="778.7" y2="856.66" stroke="#00ff00" stroke-width="3.4" stroke-linecap="butt"/>
<line x1="765.7" y1="869.07" x2="778.7" y2="869.07" stroke="#00ff00" stroke-width="3.4" stroke-linecap="butt"/>
<rect x="766.98" y="857.64" width="10.44" height="10.44" fill="#00ff00"/>
<line x1="221.9" y1="985.91" x2="313.62" y2="980.74" stroke="#0000ff" stroke-width="3.4" stroke-linecap="round"/>
<line x1="313.62" y1="980.74" x2="405.33" y2="865.45" stroke="#0000ff" stroke-width="1.7" stroke-linecap="round"/>
<line x1="405.33" y1="865.45" x2="497.05" y2="856.66" stroke="#0000ff" stroke-width="3.2" stroke-linecap="round"/>
<line x1="497.05" y1="856.66" x2="588.77" y2="791.52" stroke="#0000ff" stroke-width="3.2" stroke-linecap="round"/>
<line x1="588.77" y1="791.52" x2="680.48" y2="783.76" stroke="#0000ff" stroke-width="3.2" stroke-linecap="round"/>
<line x1="680.48" y1="783.76" x2="772.2" y2="759.98" stroke="#0000ff" stroke-width="3.2" stroke-linecap="round"/>
<line x1="221.9" y1="977.64" x2="221.9" y2="994.18" stroke="#0000ff" stroke-width="3.6" stroke-linecap="butt"/>
<line x1="215.4" y1="977.64" x2="228.4" y2="977.64" stroke="#0000ff" stroke-width="3.4" stroke-linecap="butt"/>
<line x1="215.4" y1="994.18" x2="228.4" y2="994.18" stroke="#0000ff" stroke-width="3.4" stroke-linecap="butt"/>
<circle cx="221.9" cy="985.91" r="5.58" fill="#0000ff"/>
<line x1="313.62" y1="976.6" x2="313.62" y2="984.87" stroke="#0000ff" stroke-width="3.6" stroke-linecap="butt"/>
<line x1="307.12" y1="976.6" x2="320.12" y2="976.6" stroke="#0000ff" stroke-width="3.4" stroke-linecap="butt"/>
<line x1="307.12" y1="984.87" x2="320.12" y2="984.87" stroke="#0000ff" stroke-width="3.4" stroke-linecap="butt"/>
<circle cx="313.62" cy="980.74" r="5.58" fill="#0000ff"/>
<line x1="405.33" y1="859.24" x2="405.33" y2="871.65" stroke="#0000ff" stroke-width="3.6" stroke-linecap="butt"/>
<line x1="398.83" y1="859.24" x2="411.83" y2="859.24" stroke="#0000ff" stroke-width="3.4" stroke-linecap="butt"/>
<line x1="398.83" y1="871.65" x2="411.83" y2="871.65" stroke="#0000ff" stroke-width="3.4" stroke-linecap="butt"/>
<circle cx="405.33" cy="865.45" r="5.58" fill="#0000ff"/>
<line x1="497.05" y1="854.07" x2="497.05" y2="859.24" stroke="#0000ff" stroke-width="3.6" stroke-linecap="butt"/>
<line x1="490.55" y1="854.07" x2="503.55" y2="854.07" stroke="#0000ff" stroke-width="3.4" stroke-linecap="butt"/>
<line x1="490.55" y1="859.24" x2="503.55" y2="859.24" stroke="#0000ff" stroke-width="3.4" stroke-linecap="butt"/>
<circle cx="497.05" cy="856.66" r="5.58" fill="#0000ff"/>
<line x1="588.77" y1="783.24" x2="588.77" y2="799.79" stroke="#0000ff" stroke-width="3.6" stroke-linecap="butt"/>
<line x1="582.27" y1="783.24" x2="595.27" y2="783.24" stroke="#0000ff" stroke-width="3.4" stroke-linecap="butt"/>
<line x1="582.27" y1="799.79" x2="595.27" y2="799.79" stroke="#0000ff" stroke-width="3.4" stroke-linecap="butt"/>
<circle cx="588.77" cy="791.52" r="5.58" fill="#0000ff"/>
<line x1="680.48" y1="778.59" x2="680.48" y2="788.93" stroke="#0000ff" stroke-width="3.6" stroke-linecap="butt"/>
<line x1="673.98" y1="778.59" x2="686.98" y2="778.59" stroke="#0000ff" stroke-width="3.4" stroke-linecap="butt"/>
<line x1="673.98" y1="788.93" x2="686.98" y2="788.93" stroke="#0000ff" stroke-width="3.4" stroke-linecap="butt"/>
<circle cx="680.48" cy="783.76" r="5.58" fill="#0000ff"/>
<line x1="772.2" y1="757.39" x2="772.2" y2="762.56" stroke="#0000ff" stroke-width="3.6" stroke-linecap="butt"/>
<line x1="765.7" y1="757.39" x2="778.7" y2="757.39" stroke="#0000ff" stroke-width="3.4" stroke-linecap="butt"/>
<line x1="765.7" y1="762.56" x2="778.7" y2="762.56" stroke="#0000ff" stroke-width="3.4" stroke-linecap="butt"/>
<circle cx="772.2" cy="759.98" r="5.58" fill="#0000ff"/>
<polyline points="221.9,1172.55 313.62,1130.67 405.33,1064.49 497.05,1009.69 588.77,944.55 680.48,953.34 772.2,951.79" fill="none" stroke="#ff0000" stroke-width="3" stroke-linejoin="round"/>
<line x1="221.9" y1="1169.96" x2="221.9" y2="1175.13" stroke="#ff0000" stroke-width="3.6" stroke-linecap="butt"/>
<line x1="215.4" y1="1169.96" x2="228.4" y2="1169.96" stroke="#ff0000" stroke-width="3.4" stroke-linecap="butt"/>
<line x1="215.4" y1="1175.13" x2="228.4" y2="1175.13" stroke="#ff0000" stroke-width="3.4" stroke-linecap="butt"/>
<polygon points="221.9,1166.43 215.78,1177.44 228.02,1177.44" fill="#ff0000"/>
<line x1="313.62" y1="1128.08" x2="313.62" y2="1133.25" stroke="#ff0000" stroke-width="3.6" stroke-linecap="butt"/>
<line x1="307.12" y1="1128.08" x2="320.12" y2="1128.08" stroke="#ff0000" stroke-width="3.4" stroke-linecap="butt"/>
<line x1="307.12" y1="1133.25" x2="320.12" y2="1133.25" stroke="#ff0000" stroke-width="3.4" stroke-linecap="butt"/>
<polygon points="313.62,1124.55 307.5,1135.56 319.74,1135.56" fill="#ff0000"/>
<line x1="405.33" y1="1060.36" x2="405.33" y2="1068.63" stroke="#ff0000" stroke-width="3.6" stroke-linecap="butt"/>
<line x1="398.83" y1="1060.36" x2="411.83" y2="1060.36" stroke="#ff0000" stroke-width="3.4" stroke-linecap="butt"/>
<line x1="398.83" y1="1068.63" x2="411.83" y2="1068.63" stroke="#ff0000" stroke-width="3.4" stroke-linecap="butt"/>
<polygon points="405.33,1058.37 399.21,1069.39 411.45,1069.39" fill="#ff0000"/>
<line x1="497.05" y1="1007.11" x2="497.05" y2="1012.28" stroke="#ff0000" stroke-width="3.6" stroke-linecap="butt"/>
<line x1="490.55" y1="1007.11" x2="503.55" y2="1007.11" stroke="#ff0000" stroke-width="3.4" stroke-linecap="butt"/>
<line x1="490.55" y1="1012.28" x2="503.55" y2="1012.28" stroke="#ff0000" stroke-width="3.4" stroke-linecap="butt"/>
<polygon points="497.05,1003.57 490.93,1014.59 503.17,1014.59" fill="#ff0000"/>
<line x1="588.77" y1="940.41" x2="588.77" y2="948.68" stroke="#ff0000" stroke-width="3.6" stroke-linecap="butt"/>
<line x1="582.27" y1="940.41" x2="595.27" y2="940.41" stroke="#ff0000" stroke-width="3.4" stroke-linecap="butt"/>
<line x1="582.27" y1="948.68" x2="595.27" y2="948.68" stroke="#ff0000" stroke-width="3.4" stroke-linecap="butt"/>
<polygon points="588.77,938.43 582.65,949.44 594.89,949.44" fill="#ff0000"/>
<line x1="680.48" y1="949.2" x2="680.48" y2="957.47" stroke="#ff0000" stroke-width="3.6" stroke-linecap="butt"/>
<line x1="673.98" y1="949.2" x2="686.98" y2="949.2" stroke="#ff0000" stroke-width="3.4" stroke-linecap="butt"/>
<line x1="673.98" y1="957.47" x2="686.98" y2="957.47" stroke="#ff0000" stroke-width="3.4" stroke-linecap="butt"/>
<polygon points="680.48,947.22 674.36,958.23 686.6,958.23" fill="#ff0000"/>
<line x1="772.2" y1="947.65" x2="772.2" y2="955.92" stroke="#ff0000" stroke-width="3.6" stroke-linecap="butt"/>
<line x1="765.7" y1="947.65" x2="778.7" y2="947.65" stroke="#ff0000" stroke-width="3.4" stroke-linecap="butt"/>
<line x1="765.7" y1="955.92" x2="778.7" y2="955.92" stroke="#ff0000" stroke-width="3.4" stroke-linecap="butt"/>
<polygon points="772.2,945.67 766.08,956.68 778.32,956.68" fill="#ff0000"/>
<rect x="176.6" y="715.5" width="640.9" height="516.5" fill="none" stroke="#000" stroke-width="6"/>
<line x1="164.6" y1="1232" x2="176.6" y2="1232" stroke="#000" stroke-width="4.5" stroke-linecap="butt"/>
<line x1="164.6" y1="1128.6" x2="176.6" y2="1128.6" stroke="#000" stroke-width="4.5" stroke-linecap="butt"/>
<line x1="164.6" y1="1025.2" x2="176.6" y2="1025.2" stroke="#000" stroke-width="4.5" stroke-linecap="butt"/>
<line x1="164.6" y1="921.8" x2="176.6" y2="921.8" stroke="#000" stroke-width="4.5" stroke-linecap="butt"/>
<line x1="164.6" y1="818.4" x2="176.6" y2="818.4" stroke="#000" stroke-width="4.5" stroke-linecap="butt"/>
<line x1="164.6" y1="715" x2="176.6" y2="715" stroke="#000" stroke-width="4.5" stroke-linecap="butt"/>
<line x1="169.1" y1="1180.3" x2="176.6" y2="1180.3" stroke="#000" stroke-width="4.5" stroke-linecap="butt"/>
<line x1="169.1" y1="1076.9" x2="176.6" y2="1076.9" stroke="#000" stroke-width="4.5" stroke-linecap="butt"/>
<line x1="169.1" y1="973.5" x2="176.6" y2="973.5" stroke="#000" stroke-width="4.5" stroke-linecap="butt"/>
<line x1="169.1" y1="870.1" x2="176.6" y2="870.1" stroke="#000" stroke-width="4.5" stroke-linecap="butt"/>
<line x1="169.1" y1="766.7" x2="176.6" y2="766.7" stroke="#000" stroke-width="4.5" stroke-linecap="butt"/>
<text transform="translate(116.02 1244.92) scale(0.9800 1)" font-size="44">40</text>
<text transform="translate(116.02 1141.52) scale(0.9800 1)" font-size="44">60</text>
<text transform="translate(116.02 1038.12) scale(0.9800 1)" font-size="44">80</text>
<text transform="translate(94.46 934.72) scale(0.9800 1)" font-size="44">100</text>
<text transform="translate(94.46 831.32) scale(0.9800 1)" font-size="44">120</text>
<text transform="translate(94.46 727.92) scale(0.9800 1)" font-size="44">140</text>
<line x1="221.9" y1="1232" x2="221.9" y2="1244" stroke="#000" stroke-width="4.5" stroke-linecap="butt"/>
<line x1="313.62" y1="1232" x2="313.62" y2="1244" stroke="#000" stroke-width="4.5" stroke-linecap="butt"/>
<line x1="405.33" y1="1232" x2="405.33" y2="1244" stroke="#000" stroke-width="4.5" stroke-linecap="butt"/>
<line x1="497.05" y1="1232" x2="497.05" y2="1244" stroke="#000" stroke-width="4.5" stroke-linecap="butt"/>
<line x1="588.77" y1="1232" x2="588.77" y2="1244" stroke="#000" stroke-width="4.5" stroke-linecap="butt"/>
<line x1="680.48" y1="1232" x2="680.48" y2="1244" stroke="#000" stroke-width="4.5" stroke-linecap="butt"/>
<line x1="772.2" y1="1232" x2="772.2" y2="1244" stroke="#000" stroke-width="4.5" stroke-linecap="butt"/>
<line x1="176.04" y1="1232" x2="176.04" y2="1239.5" stroke="#000" stroke-width="4.5" stroke-linecap="butt"/>
<line x1="267.76" y1="1232" x2="267.76" y2="1239.5" stroke="#000" stroke-width="4.5" stroke-linecap="butt"/>
<line x1="359.48" y1="1232" x2="359.48" y2="1239.5" stroke="#000" stroke-width="4.5" stroke-linecap="butt"/>
<line x1="451.19" y1="1232" x2="451.19" y2="1239.5" stroke="#000" stroke-width="4.5" stroke-linecap="butt"/>
<line x1="542.91" y1="1232" x2="542.91" y2="1239.5" stroke="#000" stroke-width="4.5" stroke-linecap="butt"/>
<line x1="634.62" y1="1232" x2="634.62" y2="1239.5" stroke="#000" stroke-width="4.5" stroke-linecap="butt"/>
<line x1="726.34" y1="1232" x2="726.34" y2="1239.5" stroke="#000" stroke-width="4.5" stroke-linecap="butt"/>
<line x1="818.06" y1="1232" x2="818.06" y2="1239.5" stroke="#000" stroke-width="4.5" stroke-linecap="butt"/>
<text transform="translate(185.04 1283.5) scale(0.9600 1)" font-size="44">0.02</text>
<text transform="translate(276.24 1283.5) scale(0.9600 1)" font-size="44">0.04</text>
<text transform="translate(368.19 1283.5) scale(0.9600 1)" font-size="44">0.06</text>
<text transform="translate(459.99 1283.5) scale(0.9600 1)" font-size="44">0.08</text>
<text transform="translate(551.81 1283.5) scale(0.9600 1)" font-size="44">0.10</text>
<text transform="translate(643.63 1283.5) scale(0.9600 1)" font-size="44">0.12</text>
<text transform="translate(734.83 1283.5) scale(0.9600 1)" font-size="44">0.14</text>
<text transform="translate(195.75 802.25) scale(0.9995 1)" font-size="77.05">D</text>
<text transform="translate(58.2 1032.22) rotate(-90) scale(0.9768 1)" font-size="60.92"><tspan style="font-style:italic">I</tspan><tspan style="font-weight:normal">/μ</tspan>A</text>
<text transform="translate(396.28 1355.34) scale(1.0248 1)" font-size="57.75"><tspan style="font-style:italic">C</tspan></text>
<text transform="translate(433.93 1376.6) scale(0.9218 1)" font-size="30.99">Bi</text>
<text transform="translate(463.72 1360.07) scale(0.5985 1)" font-size="23.67"><tspan style="font-weight:normal">3+</tspan></text>
<text transform="translate(485.9 1355.9) scale(0.9358 1)" font-size="59.24"><tspan style="font-weight:normal">/</tspan>mM</text>
<line x1="633.6" y1="1076.1" x2="718.5" y2="1076.1" stroke="#00ff00" stroke-width="4" stroke-linecap="butt"/>
<rect x="670.25" y="1070.3" width="11.6" height="11.6" fill="#00ff00"/>
<line x1="633.6" y1="1131.1" x2="718.5" y2="1131.1" stroke="#0000ff" stroke-width="4" stroke-linecap="butt"/>
<circle cx="676.05" cy="1131.1" r="6.2" fill="#0000ff"/>
<line x1="633.6" y1="1185.1" x2="718.5" y2="1185.1" stroke="#ff0000" stroke-width="4" stroke-linecap="butt"/>
<polygon points="676.05,1178.3 669.25,1190.54 682.85,1190.54" fill="#ff0000"/>
<text transform="translate(724.13 1090.3) scale(0.8515 1)" font-size="43.53">Zn</text>
<text transform="translate(769.26 1069.6) scale(0.9278 1)" font-size="25.52"><tspan style="font-weight:normal">2+</tspan></text>
<text transform="translate(724.15 1144.14) scale(0.9685 1)" font-size="36.95">Cd</text>
<text transform="translate(772.99 1123.7) scale(0.9049 1)" font-size="25.37"><tspan style="font-weight:normal">2+</tspan></text>
<text transform="translate(725.26 1199.7) scale(0.9259 1)" font-size="40.32">Hg</text>
<text transform="translate(772.99 1180.4) scale(0.9327 1)" font-size="24.62"><tspan style="font-weight:normal">2+</tspan></text>
<polyline points="1010,1126.4 1081.6,1074.23 1153.2,1055.03 1224.8,973.34 1296.4,949.26 1368,895.38 1439.6,822.57 1511.2,816.27 1582.8,784.74" fill="none" stroke="#00ff00" stroke-width="3.2" stroke-linejoin="round"/>
<line x1="1010" y1="1120.66" x2="1010" y2="1132.13" stroke="#00ff00" stroke-width="3.6" stroke-linecap="butt"/>
<line x1="1003.5" y1="1120.66" x2="1016.5" y2="1120.66" stroke="#00ff00" stroke-width="3.4" stroke-linecap="butt"/>
<line x1="1003.5" y1="1132.13" x2="1016.5" y2="1132.13" stroke="#00ff00" stroke-width="3.4" stroke-linecap="butt"/>
<rect x="1004.2" y="1120.6" width="11.6" height="11.6" fill="#00ff00"/>
<line x1="1081.6" y1="1065.63" x2="1081.6" y2="1082.83" stroke="#00ff00" stroke-width="3.6" stroke-linecap="butt"/>
<line x1="1075.1" y1="1065.63" x2="1088.1" y2="1065.63" stroke="#00ff00" stroke-width="3.4" stroke-linecap="butt"/>
<line x1="1075.1" y1="1082.83" x2="1088.1" y2="1082.83" stroke="#00ff00" stroke-width="3.4" stroke-linecap="butt"/>
<rect x="1075.8" y="1068.43" width="11.6" height="11.6" fill="#00ff00"/>
<line x1="1153.2" y1="1049.29" x2="1153.2" y2="1060.76" stroke="#00ff00" stroke-width="3.6" stroke-linecap="butt"/>
<line x1="1146.7" y1="1049.29" x2="1159.7" y2="1049.29" stroke="#00ff00" stroke-width="3.4" stroke-linecap="butt"/>
<line x1="1146.7" y1="1060.76" x2="1159.7" y2="1060.76" stroke="#00ff00" stroke-width="3.4" stroke-linecap="butt"/>
<rect x="1147.4" y="1049.23" width="11.6" height="11.6" fill="#00ff00"/>
<line x1="1224.8" y1="967.61" x2="1224.8" y2="979.07" stroke="#00ff00" stroke-width="3.6" stroke-linecap="butt"/>
<line x1="1218.3" y1="967.61" x2="1231.3" y2="967.61" stroke="#00ff00" stroke-width="3.4" stroke-linecap="butt"/>
<line x1="1218.3" y1="979.07" x2="1231.3" y2="979.07" stroke="#00ff00" stroke-width="3.4" stroke-linecap="butt"/>
<rect x="1219" y="967.54" width="11.6" height="11.6" fill="#00ff00"/>
<line x1="1296.4" y1="940.09" x2="1296.4" y2="958.43" stroke="#00ff00" stroke-width="3.6" stroke-linecap="butt"/>
<line x1="1289.9" y1="940.09" x2="1302.9" y2="940.09" stroke="#00ff00" stroke-width="3.4" stroke-linecap="butt"/>
<line x1="1289.9" y1="958.43" x2="1302.9" y2="958.43" stroke="#00ff00" stroke-width="3.4" stroke-linecap="butt"/>
<rect x="1290.6" y="943.46" width="11.6" height="11.6" fill="#00ff00"/>
<line x1="1368" y1="886.2" x2="1368" y2="904.55" stroke="#00ff00" stroke-width="3.6" stroke-linecap="butt"/>
<line x1="1361.5" y1="886.2" x2="1374.5" y2="886.2" stroke="#00ff00" stroke-width="3.4" stroke-linecap="butt"/>
<line x1="1361.5" y1="904.55" x2="1374.5" y2="904.55" stroke="#00ff00" stroke-width="3.4" stroke-linecap="butt"/>
<rect x="1362.2" y="889.58" width="11.6" height="11.6" fill="#00ff00"/>
<line x1="1439.6" y1="813.4" x2="1439.6" y2="831.74" stroke="#00ff00" stroke-width="3.6" stroke-linecap="butt"/>
<line x1="1433.1" y1="813.4" x2="1446.1" y2="813.4" stroke="#00ff00" stroke-width="3.4" stroke-linecap="butt"/>
<line x1="1433.1" y1="831.74" x2="1446.1" y2="831.74" stroke="#00ff00" stroke-width="3.4" stroke-linecap="butt"/>
<rect x="1433.8" y="816.77" width="11.6" height="11.6" fill="#00ff00"/>
<line x1="1511.2" y1="809.39" x2="1511.2" y2="823.15" stroke="#00ff00" stroke-width="3.6" stroke-linecap="butt"/>
<line x1="1504.7" y1="809.39" x2="1517.7" y2="809.39" stroke="#00ff00" stroke-width="3.4" stroke-linecap="butt"/>
<line x1="1504.7" y1="823.15" x2="1517.7" y2="823.15" stroke="#00ff00" stroke-width="3.4" stroke-linecap="butt"/>
<rect x="1505.4" y="810.47" width="11.6" height="11.6" fill="#00ff00"/>
<line x1="1582.8" y1="776.14" x2="1582.8" y2="793.34" stroke="#00ff00" stroke-width="3.6" stroke-linecap="butt"/>
<line x1="1576.3" y1="776.14" x2="1589.3" y2="776.14" stroke="#00ff00" stroke-width="3.4" stroke-linecap="butt"/>
<line x1="1576.3" y1="793.34" x2="1589.3" y2="793.34" stroke="#00ff00" stroke-width="3.4" stroke-linecap="butt"/>
<rect x="1577" y="778.94" width="11.6" height="11.6" fill="#00ff00"/>
<polyline points="1010,1128.12 1081.6,960.73 1153.2,933.21 1224.8,905.69 1296.4,876.46 1368,817.99 1439.6,754.36 1511.2,765.25 1582.8,761.24" fill="none" stroke="#0000ff" stroke-width="3.2" stroke-linejoin="round"/>
<line x1="1010" y1="1122.38" x2="1010" y2="1133.85" stroke="#0000ff" stroke-width="3.6" stroke-linecap="butt"/>
<line x1="1003.5" y1="1122.38" x2="1016.5" y2="1122.38" stroke="#0000ff" stroke-width="3.4" stroke-linecap="butt"/>
<line x1="1003.5" y1="1133.85" x2="1016.5" y2="1133.85" stroke="#0000ff" stroke-width="3.4" stroke-linecap="butt"/>
<circle cx="1010" cy="1128.12" r="6.2" fill="#0000ff"/>
<line x1="1081.6" y1="953.85" x2="1081.6" y2="967.61" stroke="#0000ff" stroke-width="3.6" stroke-linecap="butt"/>
<line x1="1075.1" y1="953.85" x2="1088.1" y2="953.85" stroke="#0000ff" stroke-width="3.4" stroke-linecap="butt"/>
<line x1="1075.1" y1="967.61" x2="1088.1" y2="967.61" stroke="#0000ff" stroke-width="3.4" stroke-linecap="butt"/>
<circle cx="1081.6" cy="960.73" r="6.2" fill="#0000ff"/>
<line x1="1153.2" y1="927.48" x2="1153.2" y2="938.94" stroke="#0000ff" stroke-width="3.6" stroke-linecap="butt"/>
<line x1="1146.7" y1="927.48" x2="1159.7" y2="927.48" stroke="#0000ff" stroke-width="3.4" stroke-linecap="butt"/>
<line x1="1146.7" y1="938.94" x2="1159.7" y2="938.94" stroke="#0000ff" stroke-width="3.4" stroke-linecap="butt"/>
<circle cx="1153.2" cy="933.21" r="6.2" fill="#0000ff"/>
<line x1="1224.8" y1="897.1" x2="1224.8" y2="914.29" stroke="#0000ff" stroke-width="3.6" stroke-linecap="butt"/>
<line x1="1218.3" y1="897.1" x2="1231.3" y2="897.1" stroke="#0000ff" stroke-width="3.4" stroke-linecap="butt"/>
<line x1="1218.3" y1="914.29" x2="1231.3" y2="914.29" stroke="#0000ff" stroke-width="3.4" stroke-linecap="butt"/>
<circle cx="1224.8" cy="905.69" r="6.2" fill="#0000ff"/>
<line x1="1296.4" y1="870.73" x2="1296.4" y2="882.19" stroke="#0000ff" stroke-width="3.6" stroke-linecap="butt"/>
<line x1="1289.9" y1="870.73" x2="1302.9" y2="870.73" stroke="#0000ff" stroke-width="3.4" stroke-linecap="butt"/>
<line x1="1289.9" y1="882.19" x2="1302.9" y2="882.19" stroke="#0000ff" stroke-width="3.4" stroke-linecap="butt"/>
<circle cx="1296.4" cy="876.46" r="6.2" fill="#0000ff"/>
<line x1="1368" y1="813.4" x2="1368" y2="822.57" stroke="#0000ff" stroke-width="3.6" stroke-linecap="butt"/>
<line x1="1361.5" y1="813.4" x2="1374.5" y2="813.4" stroke="#0000ff" stroke-width="3.4" stroke-linecap="butt"/>
<line x1="1361.5" y1="822.57" x2="1374.5" y2="822.57" stroke="#0000ff" stroke-width="3.4" stroke-linecap="butt"/>
<circle cx="1368" cy="817.99" r="6.2" fill="#0000ff"/>
<line x1="1439.6" y1="748.62" x2="1439.6" y2="760.09" stroke="#0000ff" stroke-width="3.6" stroke-linecap="butt"/>
<line x1="1433.1" y1="748.62" x2="1446.1" y2="748.62" stroke="#0000ff" stroke-width="3.4" stroke-linecap="butt"/>
<line x1="1433.1" y1="760.09" x2="1446.1" y2="760.09" stroke="#0000ff" stroke-width="3.4" stroke-linecap="butt"/>
<circle cx="1439.6" cy="754.36" r="6.2" fill="#0000ff"/>
<line x1="1511.2" y1="759.52" x2="1511.2" y2="770.98" stroke="#0000ff" stroke-width="3.6" stroke-linecap="butt"/>
<line x1="1504.7" y1="759.52" x2="1517.7" y2="759.52" stroke="#0000ff" stroke-width="3.4" stroke-linecap="butt"/>
<line x1="1504.7" y1="770.98" x2="1517.7" y2="770.98" stroke="#0000ff" stroke-width="3.4" stroke-linecap="butt"/>
<circle cx="1511.2" cy="765.25" r="6.2" fill="#0000ff"/>
<line x1="1582.8" y1="755.5" x2="1582.8" y2="766.97" stroke="#0000ff" stroke-width="3.6" stroke-linecap="butt"/>
<line x1="1576.3" y1="755.5" x2="1589.3" y2="755.5" stroke="#0000ff" stroke-width="3.4" stroke-linecap="butt"/>
<line x1="1576.3" y1="766.97" x2="1589.3" y2="766.97" stroke="#0000ff" stroke-width="3.4" stroke-linecap="butt"/>
<circle cx="1582.8" cy="761.24" r="6.2" fill="#0000ff"/>
<polyline points="1010,1148.18 1081.6,1109.2 1153.2,1063.34 1224.8,1013.47 1296.4,989.39 1368,956.71 1439.6,937.8 1511.2,952.13 1582.8,995.69" fill="none" stroke="#ff0000" stroke-width="3.2" stroke-linejoin="round"/>
<line x1="1010" y1="1137.86" x2="1010" y2="1158.5" stroke="#ff0000" stroke-width="3.6" stroke-linecap="butt"/>
<line x1="1003.5" y1="1137.86" x2="1016.5" y2="1137.86" stroke="#ff0000" stroke-width="3.4" stroke-linecap="butt"/>
<line x1="1003.5" y1="1158.5" x2="1016.5" y2="1158.5" stroke="#ff0000" stroke-width="3.4" stroke-linecap="butt"/>
<polygon points="1010,1141.38 1003.2,1153.62 1016.8,1153.62" fill="#ff0000"/>
<line x1="1081.6" y1="1096.01" x2="1081.6" y2="1122.38" stroke="#ff0000" stroke-width="3.6" stroke-linecap="butt"/>
<line x1="1075.1" y1="1096.01" x2="1088.1" y2="1096.01" stroke="#ff0000" stroke-width="3.4" stroke-linecap="butt"/>
<line x1="1075.1" y1="1122.38" x2="1088.1" y2="1122.38" stroke="#ff0000" stroke-width="3.4" stroke-linecap="butt"/>
<polygon points="1081.6,1102.4 1074.8,1114.64 1088.4,1114.64" fill="#ff0000"/>
<line x1="1153.2" y1="1057.61" x2="1153.2" y2="1069.07" stroke="#ff0000" stroke-width="3.6" stroke-linecap="butt"/>
<line x1="1146.7" y1="1057.61" x2="1159.7" y2="1057.61" stroke="#ff0000" stroke-width="3.4" stroke-linecap="butt"/>
<line x1="1146.7" y1="1069.07" x2="1159.7" y2="1069.07" stroke="#ff0000" stroke-width="3.4" stroke-linecap="butt"/>
<polygon points="1153.2,1056.54 1146.4,1068.78 1160,1068.78" fill="#ff0000"/>
<line x1="1224.8" y1="1007.73" x2="1224.8" y2="1019.2" stroke="#ff0000" stroke-width="3.6" stroke-linecap="butt"/>
<line x1="1218.3" y1="1007.73" x2="1231.3" y2="1007.73" stroke="#ff0000" stroke-width="3.4" stroke-linecap="butt"/>
<line x1="1218.3" y1="1019.2" x2="1231.3" y2="1019.2" stroke="#ff0000" stroke-width="3.4" stroke-linecap="butt"/>
<polygon points="1224.8,1006.67 1218,1018.91 1231.6,1018.91" fill="#ff0000"/>
<line x1="1296.4" y1="982.51" x2="1296.4" y2="996.27" stroke="#ff0000" stroke-width="3.6" stroke-linecap="butt"/>
<line x1="1289.9" y1="982.51" x2="1302.9" y2="982.51" stroke="#ff0000" stroke-width="3.4" stroke-linecap="butt"/>
<line x1="1289.9" y1="996.27" x2="1302.9" y2="996.27" stroke="#ff0000" stroke-width="3.4" stroke-linecap="butt"/>
<polygon points="1296.4,982.59 1289.6,994.83 1303.2,994.83" fill="#ff0000"/>
<line x1="1368" y1="950.98" x2="1368" y2="962.45" stroke="#ff0000" stroke-width="3.6" stroke-linecap="butt"/>
<line x1="1361.5" y1="950.98" x2="1374.5" y2="950.98" stroke="#ff0000" stroke-width="3.4" stroke-linecap="butt"/>
<line x1="1361.5" y1="962.45" x2="1374.5" y2="962.45" stroke="#ff0000" stroke-width="3.4" stroke-linecap="butt"/>
<polygon points="1368,949.91 1361.2,962.15 1374.8,962.15" fill="#ff0000"/>
<line x1="1439.6" y1="929.2" x2="1439.6" y2="946.39" stroke="#ff0000" stroke-width="3.6" stroke-linecap="butt"/>
<line x1="1433.1" y1="929.2" x2="1446.1" y2="929.2" stroke="#ff0000" stroke-width="3.4" stroke-linecap="butt"/>
<line x1="1433.1" y1="946.39" x2="1446.1" y2="946.39" stroke="#ff0000" stroke-width="3.4" stroke-linecap="butt"/>
<polygon points="1439.6,931 1432.8,943.24 1446.4,943.24" fill="#ff0000"/>
<line x1="1511.2" y1="942.96" x2="1511.2" y2="961.3" stroke="#ff0000" stroke-width="3.6" stroke-linecap="butt"/>
<line x1="1504.7" y1="942.96" x2="1517.7" y2="942.96" stroke="#ff0000" stroke-width="3.4" stroke-linecap="butt"/>
<line x1="1504.7" y1="961.3" x2="1517.7" y2="961.3" stroke="#ff0000" stroke-width="3.4" stroke-linecap="butt"/>
<polygon points="1511.2,945.33 1504.4,957.57 1518,957.57" fill="#ff0000"/>
<line x1="1582.8" y1="989.96" x2="1582.8" y2="1001.43" stroke="#ff0000" stroke-width="3.6" stroke-linecap="butt"/>
<line x1="1576.3" y1="989.96" x2="1589.3" y2="989.96" stroke="#ff0000" stroke-width="3.4" stroke-linecap="butt"/>
<line x1="1576.3" y1="1001.43" x2="1589.3" y2="1001.43" stroke="#ff0000" stroke-width="3.4" stroke-linecap="butt"/>
<polygon points="1582.8,988.89 1576,1001.13 1589.6,1001.13" fill="#ff0000"/>
<rect x="975.7" y="716" width="642.3" height="516.5" fill="none" stroke="#000" stroke-width="6"/>
<rect x="1388.4" y="713.5" width="98.6" height="347.5" fill="rgba(243,160,36,0.35)"/>
<line x1="963.7" y1="1231.3" x2="975.7" y2="1231.3" stroke="#000" stroke-width="4.5" stroke-linecap="butt"/>
<line x1="963.7" y1="1002" x2="975.7" y2="1002" stroke="#000" stroke-width="4.5" stroke-linecap="butt"/>
<line x1="963.7" y1="772.7" x2="975.7" y2="772.7" stroke="#000" stroke-width="4.5" stroke-linecap="butt"/>
<line x1="968.2" y1="1116.65" x2="975.7" y2="1116.65" stroke="#000" stroke-width="4.5" stroke-linecap="butt"/>
<line x1="968.2" y1="887.35" x2="975.7" y2="887.35" stroke="#000" stroke-width="4.5" stroke-linecap="butt"/>
<text transform="translate(914.12 1244.22) scale(0.9800 1)" font-size="44">40</text>
<text transform="translate(914.12 1014.92) scale(0.9800 1)" font-size="44">80</text>
<text transform="translate(892.56 785.62) scale(0.9800 1)" font-size="44">120</text>
<line x1="1081.6" y1="1232.5" x2="1081.6" y2="1244.5" stroke="#000" stroke-width="4.5" stroke-linecap="butt"/>
<line x1="1224.8" y1="1232.5" x2="1224.8" y2="1244.5" stroke="#000" stroke-width="4.5" stroke-linecap="butt"/>
<line x1="1368" y1="1232.5" x2="1368" y2="1244.5" stroke="#000" stroke-width="4.5" stroke-linecap="butt"/>
<line x1="1511.2" y1="1232.5" x2="1511.2" y2="1244.5" stroke="#000" stroke-width="4.5" stroke-linecap="butt"/>
<line x1="1010" y1="1232.5" x2="1010" y2="1240" stroke="#000" stroke-width="4.5" stroke-linecap="butt"/>
<line x1="1153.2" y1="1232.5" x2="1153.2" y2="1240" stroke="#000" stroke-width="4.5" stroke-linecap="butt"/>
<line x1="1296.4" y1="1232.5" x2="1296.4" y2="1240" stroke="#000" stroke-width="4.5" stroke-linecap="butt"/>
<line x1="1439.6" y1="1232.5" x2="1439.6" y2="1240" stroke="#000" stroke-width="4.5" stroke-linecap="butt"/>
<line x1="1582.8" y1="1232.5" x2="1582.8" y2="1240" stroke="#000" stroke-width="4.5" stroke-linecap="butt"/>
<text transform="translate(1047.5 1282.7) scale(0.9800 1)" font-size="44">-1.0</text>
<text transform="translate(1190.81 1282.7) scale(0.9800 1)" font-size="44">-1.2</text>
<text transform="translate(1333.48 1282.7) scale(0.9800 1)" font-size="44">-1.4</text>
<text transform="translate(1476.91 1282.7) scale(0.9800 1)" font-size="44">-1.6</text>
<text transform="translate(1013.3 802.4) scale(0.9836 1)" font-size="77.28">E</text>
<text transform="translate(886 1032.22) rotate(-90) scale(0.9810 1)" font-size="60.92"><tspan style="font-style:italic">I</tspan><tspan style="font-weight:normal">/μ</tspan>A</text>
<text transform="translate(1245.14 1361.9) scale(1.0264 1)" font-size="58.93"><tspan style="font-style:italic">E</tspan><tspan style="font-weight:normal">/</tspan>V</text>
<line x1="1442.4" y1="1081.5" x2="1507.2" y2="1081.5" stroke="#00ff00" stroke-width="4" stroke-linecap="butt"/>
<rect x="1469" y="1075.7" width="11.6" height="11.6" fill="#00ff00"/>
<line x1="1442.4" y1="1142.8" x2="1507.2" y2="1142.8" stroke="#0000ff" stroke-width="4" stroke-linecap="butt"/>
<circle cx="1474.8" cy="1142.8" r="6.2" fill="#0000ff"/>
<line x1="1442.4" y1="1203" x2="1507.2" y2="1203" stroke="#ff0000" stroke-width="4" stroke-linecap="butt"/>
<polygon points="1474.8,1196.2 1468,1208.44 1481.6,1208.44" fill="#ff0000"/>
<text transform="translate(1509.63 1090.3) scale(1.0328 1)" font-size="43.98">Zn</text>
<text transform="translate(1564.72 1069.1) scale(1.1582 1)" font-size="25.07"><tspan style="font-weight:normal">2+</tspan></text>
<text transform="translate(1515.54 1149.91) scale(1.0527 1)" font-size="40.08">Cd</text>
<text transform="translate(1570.5 1127.1) scale(1.1349 1)" font-size="26.13"><tspan style="font-weight:normal">2+</tspan></text>
<text transform="translate(1514.94 1210.6) scale(1.0338 1)" font-size="42.76">Hg</text>
<text transform="translate(1570.5 1189.6) scale(1.1828 1)" font-size="25.07"><tspan style="font-weight:normal">2+</tspan></text>
<polyline points="1835.2,1048.07 1958.64,942.81 2082.08,876.71 2205.52,833.06 2328.96,799.19 2452.4,764.1" fill="none" stroke="#00ff00" stroke-width="3.2" stroke-linejoin="round"/>
<line x1="1835.2" y1="1043.99" x2="1835.2" y2="1052.15" stroke="#00ff00" stroke-width="3.6" stroke-linecap="butt"/>
<line x1="1828.7" y1="1043.99" x2="1841.7" y2="1043.99" stroke="#00ff00" stroke-width="3.4" stroke-linecap="butt"/>
<line x1="1828.7" y1="1052.15" x2="1841.7" y2="1052.15" stroke="#00ff00" stroke-width="3.4" stroke-linecap="butt"/>
<rect x="1829.4" y="1042.27" width="11.6" height="11.6" fill="#00ff00"/>
<line x1="1958.64" y1="936.69" x2="1958.64" y2="948.93" stroke="#00ff00" stroke-width="3.6" stroke-linecap="butt"/>
<line x1="1952.14" y1="936.69" x2="1965.14" y2="936.69" stroke="#00ff00" stroke-width="3.4" stroke-linecap="butt"/>
<line x1="1952.14" y1="948.93" x2="1965.14" y2="948.93" stroke="#00ff00" stroke-width="3.4" stroke-linecap="butt"/>
<rect x="1952.84" y="937.01" width="11.6" height="11.6" fill="#00ff00"/>
<line x1="2082.08" y1="870.18" x2="2082.08" y2="883.24" stroke="#00ff00" stroke-width="3.6" stroke-linecap="butt"/>
<line x1="2075.58" y1="870.18" x2="2088.58" y2="870.18" stroke="#00ff00" stroke-width="3.4" stroke-linecap="butt"/>
<line x1="2075.58" y1="883.24" x2="2088.58" y2="883.24" stroke="#00ff00" stroke-width="3.4" stroke-linecap="butt"/>
<rect x="2076.28" y="870.91" width="11.6" height="11.6" fill="#00ff00"/>
<line x1="2205.52" y1="828.98" x2="2205.52" y2="837.14" stroke="#00ff00" stroke-width="3.6" stroke-linecap="butt"/>
<line x1="2199.02" y1="828.98" x2="2212.02" y2="828.98" stroke="#00ff00" stroke-width="3.4" stroke-linecap="butt"/>
<line x1="2199.02" y1="837.14" x2="2212.02" y2="837.14" stroke="#00ff00" stroke-width="3.4" stroke-linecap="butt"/>
<rect x="2199.72" y="827.26" width="11.6" height="11.6" fill="#00ff00"/>
<line x1="2328.96" y1="791.03" x2="2328.96" y2="807.35" stroke="#00ff00" stroke-width="3.6" stroke-linecap="butt"/>
<line x1="2322.46" y1="791.03" x2="2335.46" y2="791.03" stroke="#00ff00" stroke-width="3.4" stroke-linecap="butt"/>
<line x1="2322.46" y1="807.35" x2="2335.46" y2="807.35" stroke="#00ff00" stroke-width="3.4" stroke-linecap="butt"/>
<rect x="2323.16" y="793.39" width="11.6" height="11.6" fill="#00ff00"/>
<line x1="2452.4" y1="760.02" x2="2452.4" y2="768.18" stroke="#00ff00" stroke-width="3.6" stroke-linecap="butt"/>
<line x1="2445.9" y1="760.02" x2="2458.9" y2="760.02" stroke="#00ff00" stroke-width="3.4" stroke-linecap="butt"/>
<line x1="2445.9" y1="768.18" x2="2458.9" y2="768.18" stroke="#00ff00" stroke-width="3.4" stroke-linecap="butt"/>
<rect x="2446.6" y="758.3" width="11.6" height="11.6" fill="#00ff00"/>
<polyline points="1835.2,980.34 1958.64,888.14 2082.08,822.86 2205.52,805.31 2328.96,776.75 2452.4,753.9" fill="none" stroke="#0000ff" stroke-width="3.2" stroke-linejoin="round"/>
<line x1="1835.2" y1="976.26" x2="1835.2" y2="984.42" stroke="#0000ff" stroke-width="3.6" stroke-linecap="butt"/>
<line x1="1828.7" y1="976.26" x2="1841.7" y2="976.26" stroke="#0000ff" stroke-width="3.4" stroke-linecap="butt"/>
<line x1="1828.7" y1="984.42" x2="1841.7" y2="984.42" stroke="#0000ff" stroke-width="3.4" stroke-linecap="butt"/>
<circle cx="1835.2" cy="980.34" r="6.2" fill="#0000ff"/>
<line x1="1958.64" y1="876.71" x2="1958.64" y2="899.56" stroke="#0000ff" stroke-width="3.6" stroke-linecap="butt"/>
<line x1="1952.14" y1="876.71" x2="1965.14" y2="876.71" stroke="#0000ff" stroke-width="3.4" stroke-linecap="butt"/>
<line x1="1952.14" y1="899.56" x2="1965.14" y2="899.56" stroke="#0000ff" stroke-width="3.4" stroke-linecap="butt"/>
<circle cx="1958.64" cy="888.14" r="6.2" fill="#0000ff"/>
<line x1="2082.08" y1="813.88" x2="2082.08" y2="831.83" stroke="#0000ff" stroke-width="3.6" stroke-linecap="butt"/>
<line x1="2075.58" y1="813.88" x2="2088.58" y2="813.88" stroke="#0000ff" stroke-width="3.4" stroke-linecap="butt"/>
<line x1="2075.58" y1="831.83" x2="2088.58" y2="831.83" stroke="#0000ff" stroke-width="3.4" stroke-linecap="butt"/>
<circle cx="2082.08" cy="822.86" r="6.2" fill="#0000ff"/>
<line x1="2205.52" y1="801.23" x2="2205.52" y2="809.39" stroke="#0000ff" stroke-width="3.6" stroke-linecap="butt"/>
<line x1="2199.02" y1="801.23" x2="2212.02" y2="801.23" stroke="#0000ff" stroke-width="3.4" stroke-linecap="butt"/>
<line x1="2199.02" y1="809.39" x2="2212.02" y2="809.39" stroke="#0000ff" stroke-width="3.4" stroke-linecap="butt"/>
<circle cx="2205.52" cy="805.31" r="6.2" fill="#0000ff"/>
<line x1="2328.96" y1="768.59" x2="2328.96" y2="784.91" stroke="#0000ff" stroke-width="3.6" stroke-linecap="butt"/>
<line x1="2322.46" y1="768.59" x2="2335.46" y2="768.59" stroke="#0000ff" stroke-width="3.4" stroke-linecap="butt"/>
<line x1="2322.46" y1="784.91" x2="2335.46" y2="784.91" stroke="#0000ff" stroke-width="3.4" stroke-linecap="butt"/>
<circle cx="2328.96" cy="776.75" r="6.2" fill="#0000ff"/>
<line x1="2452.4" y1="747.78" x2="2452.4" y2="760.02" stroke="#0000ff" stroke-width="3.6" stroke-linecap="butt"/>
<line x1="2445.9" y1="747.78" x2="2458.9" y2="747.78" stroke="#0000ff" stroke-width="3.4" stroke-linecap="butt"/>
<line x1="2445.9" y1="760.02" x2="2458.9" y2="760.02" stroke="#0000ff" stroke-width="3.4" stroke-linecap="butt"/>
<circle cx="2452.4" cy="753.9" r="6.2" fill="#0000ff"/>
<polyline points="1835.2,1034.61 1958.64,968.1 2082.08,949.34 2205.52,963.21 2328.96,1011.76 2452.4,1062.76" fill="none" stroke="#ff0000" stroke-width="3.2" stroke-linejoin="round"/>
<line x1="1835.2" y1="1028.08" x2="1835.2" y2="1041.14" stroke="#ff0000" stroke-width="3.6" stroke-linecap="butt"/>
<line x1="1828.7" y1="1028.08" x2="1841.7" y2="1028.08" stroke="#ff0000" stroke-width="3.4" stroke-linecap="butt"/>
<line x1="1828.7" y1="1041.14" x2="1841.7" y2="1041.14" stroke="#ff0000" stroke-width="3.4" stroke-linecap="butt"/>
<polygon points="1835.2,1027.81 1828.4,1040.05 1842,1040.05" fill="#ff0000"/>
<line x1="1958.64" y1="964.02" x2="1958.64" y2="972.18" stroke="#ff0000" stroke-width="3.6" stroke-linecap="butt"/>
<line x1="1952.14" y1="964.02" x2="1965.14" y2="964.02" stroke="#ff0000" stroke-width="3.4" stroke-linecap="butt"/>
<line x1="1952.14" y1="972.18" x2="1965.14" y2="972.18" stroke="#ff0000" stroke-width="3.4" stroke-linecap="butt"/>
<polygon points="1958.64,961.3 1951.84,973.54 1965.44,973.54" fill="#ff0000"/>
<line x1="2082.08" y1="943.22" x2="2082.08" y2="955.46" stroke="#ff0000" stroke-width="3.6" stroke-linecap="butt"/>
<line x1="2075.58" y1="943.22" x2="2088.58" y2="943.22" stroke="#ff0000" stroke-width="3.4" stroke-linecap="butt"/>
<line x1="2075.58" y1="955.46" x2="2088.58" y2="955.46" stroke="#ff0000" stroke-width="3.4" stroke-linecap="butt"/>
<polygon points="2082.08,942.54 2075.28,954.78 2088.88,954.78" fill="#ff0000"/>
<line x1="2205.52" y1="955.05" x2="2205.52" y2="971.37" stroke="#ff0000" stroke-width="3.6" stroke-linecap="butt"/>
<line x1="2199.02" y1="955.05" x2="2212.02" y2="955.05" stroke="#ff0000" stroke-width="3.4" stroke-linecap="butt"/>
<line x1="2199.02" y1="971.37" x2="2212.02" y2="971.37" stroke="#ff0000" stroke-width="3.4" stroke-linecap="butt"/>
<polygon points="2205.52,956.41 2198.72,968.65 2212.32,968.65" fill="#ff0000"/>
<line x1="2328.96" y1="1006.86" x2="2328.96" y2="1016.66" stroke="#ff0000" stroke-width="3.6" stroke-linecap="butt"/>
<line x1="2322.46" y1="1006.86" x2="2335.46" y2="1006.86" stroke="#ff0000" stroke-width="3.4" stroke-linecap="butt"/>
<line x1="2322.46" y1="1016.66" x2="2335.46" y2="1016.66" stroke="#ff0000" stroke-width="3.4" stroke-linecap="butt"/>
<polygon points="2328.96,1004.96 2322.16,1017.2 2335.76,1017.2" fill="#ff0000"/>
<line x1="2452.4" y1="1051.34" x2="2452.4" y2="1074.18" stroke="#ff0000" stroke-width="3.6" stroke-linecap="butt"/>
<line x1="2445.9" y1="1051.34" x2="2458.9" y2="1051.34" stroke="#ff0000" stroke-width="3.4" stroke-linecap="butt"/>
<line x1="2445.9" y1="1074.18" x2="2458.9" y2="1074.18" stroke="#ff0000" stroke-width="3.4" stroke-linecap="butt"/>
<polygon points="2452.4,1055.96 2445.6,1068.2 2459.2,1068.2" fill="#ff0000"/>
<rect x="2034" y="722" width="99" height="348" fill="rgba(243,160,36,0.35)"/>
<rect x="1824" y="718" width="641" height="516.5" fill="none" stroke="#000" stroke-width="6"/>
<line x1="1812" y1="1166.8" x2="1824" y2="1166.8" stroke="#000" stroke-width="4.5" stroke-linecap="butt"/>
<line x1="1812" y1="1003.6" x2="1824" y2="1003.6" stroke="#000" stroke-width="4.5" stroke-linecap="butt"/>
<line x1="1812" y1="840.4" x2="1824" y2="840.4" stroke="#000" stroke-width="4.5" stroke-linecap="butt"/>
<line x1="1816.5" y1="1085.2" x2="1824" y2="1085.2" stroke="#000" stroke-width="4.5" stroke-linecap="butt"/>
<line x1="1816.5" y1="922" x2="1824" y2="922" stroke="#000" stroke-width="4.5" stroke-linecap="butt"/>
<line x1="1816.5" y1="758.8" x2="1824" y2="758.8" stroke="#000" stroke-width="4.5" stroke-linecap="butt"/>
<text transform="translate(1761.32 1179.72) scale(0.9800 1)" font-size="44">40</text>
<text transform="translate(1761.32 1016.52) scale(0.9800 1)" font-size="44">80</text>
<text transform="translate(1739.76 853.32) scale(0.9800 1)" font-size="44">120</text>
<line x1="1835.2" y1="1234.5" x2="1835.2" y2="1246.5" stroke="#000" stroke-width="4.5" stroke-linecap="butt"/>
<line x1="1958.64" y1="1234.5" x2="1958.64" y2="1246.5" stroke="#000" stroke-width="4.5" stroke-linecap="butt"/>
<line x1="2082.08" y1="1234.5" x2="2082.08" y2="1246.5" stroke="#000" stroke-width="4.5" stroke-linecap="butt"/>
<line x1="2205.52" y1="1234.5" x2="2205.52" y2="1246.5" stroke="#000" stroke-width="4.5" stroke-linecap="butt"/>
<line x1="2328.96" y1="1234.5" x2="2328.96" y2="1246.5" stroke="#000" stroke-width="4.5" stroke-linecap="butt"/>
<line x1="2452.4" y1="1234.5" x2="2452.4" y2="1246.5" stroke="#000" stroke-width="4.5" stroke-linecap="butt"/>
<line x1="1896.92" y1="1234.5" x2="1896.92" y2="1242" stroke="#000" stroke-width="4.5" stroke-linecap="butt"/>
<line x1="2020.36" y1="1234.5" x2="2020.36" y2="1242" stroke="#000" stroke-width="4.5" stroke-linecap="butt"/>
<line x1="2143.8" y1="1234.5" x2="2143.8" y2="1242" stroke="#000" stroke-width="4.5" stroke-linecap="butt"/>
<line x1="2267.24" y1="1234.5" x2="2267.24" y2="1242" stroke="#000" stroke-width="4.5" stroke-linecap="butt"/>
<line x1="2390.68" y1="1234.5" x2="2390.68" y2="1242" stroke="#000" stroke-width="4.5" stroke-linecap="butt"/>
<text transform="translate(1813.6 1285.4) scale(0.9800 1)" font-size="44">50</text>
<text transform="translate(1925.39 1285.4) scale(0.9800 1)" font-size="44">100</text>
<text transform="translate(2048.83 1285.4) scale(0.9800 1)" font-size="44">150</text>
<text transform="translate(2173.1 1285.4) scale(0.9800 1)" font-size="44">200</text>
<text transform="translate(2296.54 1285.4) scale(0.9800 1)" font-size="44">250</text>
<text transform="translate(2420.07 1285.4) scale(0.9800 1)" font-size="44">300</text>
<text transform="translate(1850.85 807.4) scale(1.0462 1)" font-size="75.29">F</text>
<text transform="translate(1726.6 1035.62) rotate(-90) scale(0.9665 1)" font-size="61.83"><tspan style="font-style:italic">I</tspan><tspan style="font-weight:normal">/μ</tspan>A</text>
<text transform="translate(2113.6 1358.6) scale(1.0236 1)" font-size="57.95"><tspan style="font-style:italic">t</tspan><tspan style="font-weight:normal">/</tspan>s</text>
<line x1="2235.4" y1="1087.5" x2="2312.3" y2="1087.5" stroke="#00ff00" stroke-width="4" stroke-linecap="butt"/>
<rect x="2268.05" y="1081.7" width="11.6" height="11.6" fill="#00ff00"/>
<line x1="2235.4" y1="1148.2" x2="2312.3" y2="1148.2" stroke="#0000ff" stroke-width="4" stroke-linecap="butt"/>
<circle cx="2273.85" cy="1148.2" r="6.2" fill="#0000ff"/>
<line x1="2235.4" y1="1208.9" x2="2312.3" y2="1208.9" stroke="#ff0000" stroke-width="4" stroke-linecap="butt"/>
<polygon points="2273.85,1202.1 2267.05,1214.34 2280.65,1214.34" fill="#ff0000"/>
<text transform="translate(2317.23 1096.6) scale(1.0328 1)" font-size="43.98">Zn</text>
<text transform="translate(2372.22 1075.4) scale(1.1582 1)" font-size="25.07"><tspan style="font-weight:normal">2+</tspan></text>
<text transform="translate(2319.89 1156.21) scale(1.0793 1)" font-size="40.08">Cd</text>
<text transform="translate(2375.64 1138.5) scale(0.9138 1)" font-size="28.85"><tspan style="font-weight:normal">2+</tspan></text>
<text transform="translate(2318.64 1217.5) scale(1.0121 1)" font-size="43.68">Hg</text>
<text transform="translate(2375.64 1195.9) scale(1.0514 1)" font-size="25.07"><tspan style="font-weight:normal">2+</tspan></text>
</svg>
</body></html>
